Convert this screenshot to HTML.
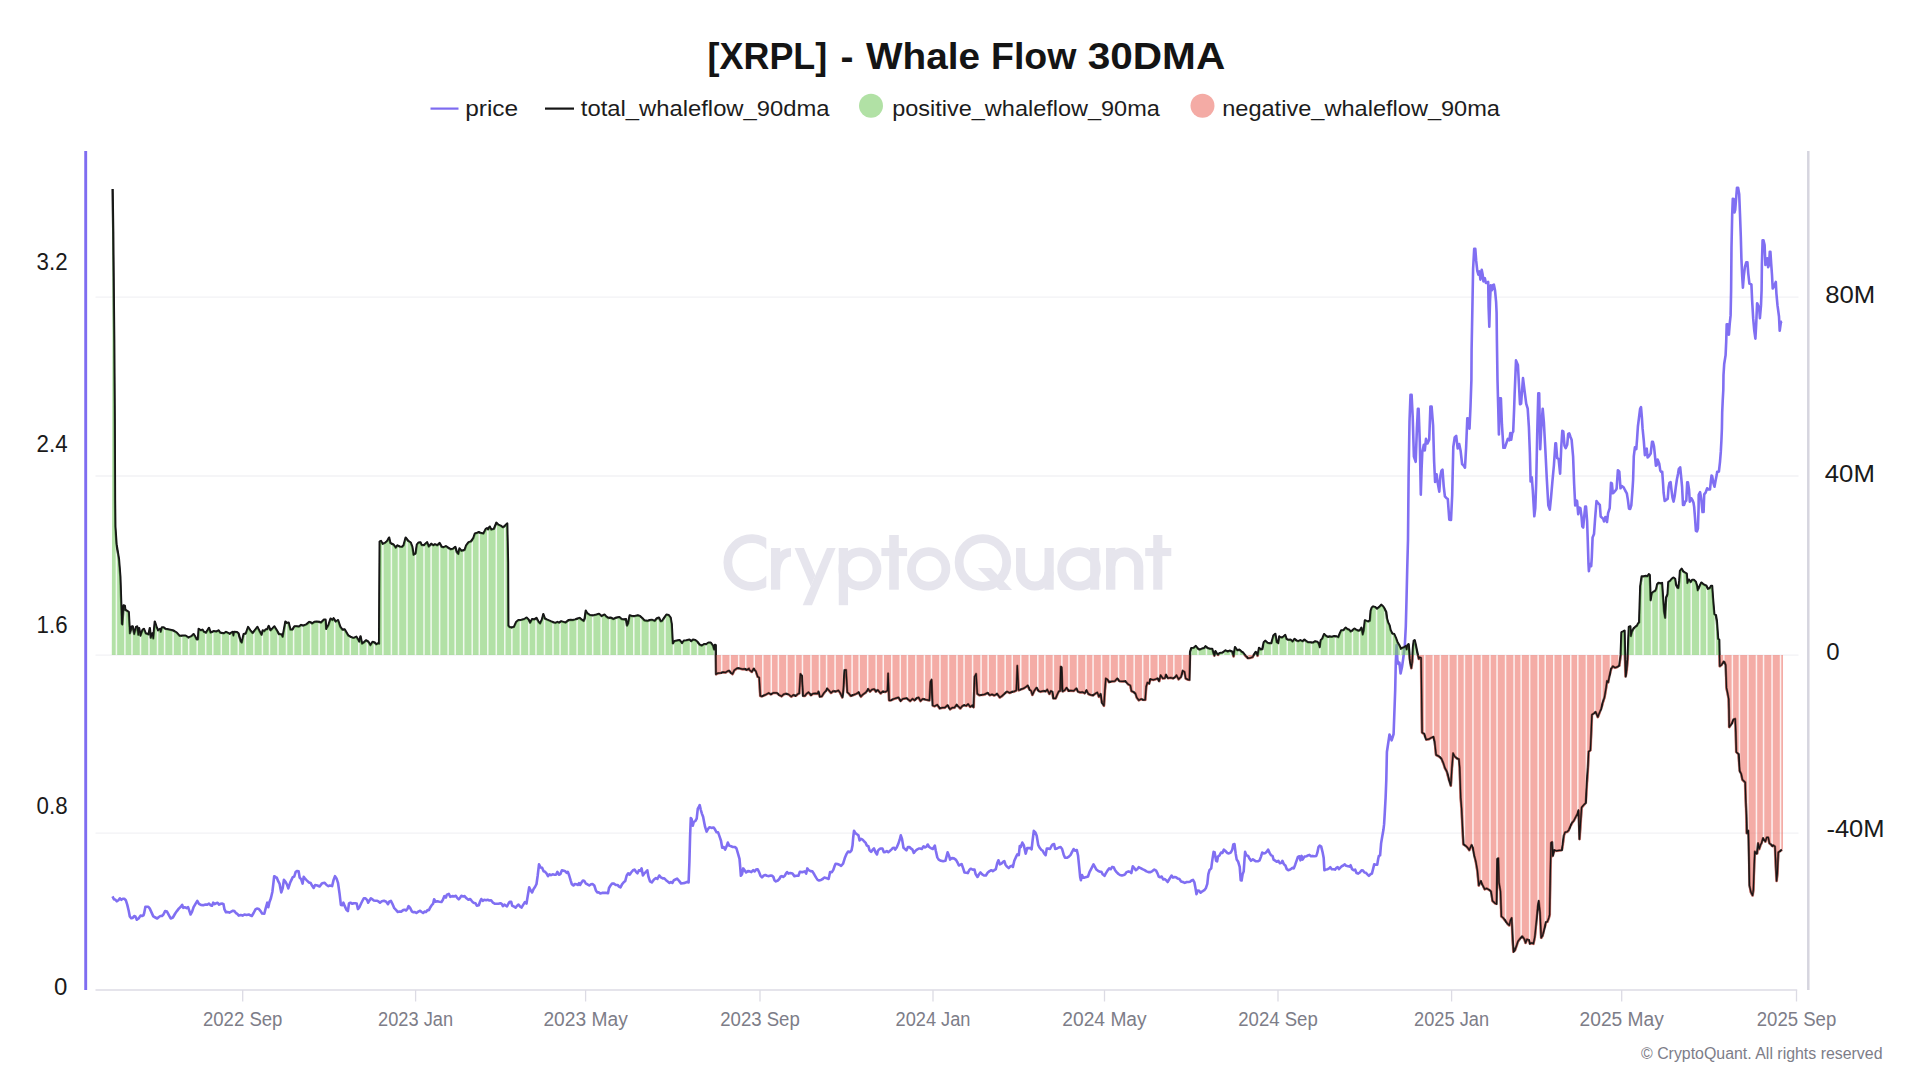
<!DOCTYPE html>
<html><head><meta charset="utf-8"><title>[XRPL] - Whale Flow 30DMA</title>
<style>
html,body{margin:0;padding:0;background:#fff;}
body{width:1930px;height:1086px;overflow:hidden;font-family:"Liberation Sans", sans-serif;}
svg{display:block;font-family:"Liberation Sans", sans-serif;}
</style></head>
<body>
<svg width="1930" height="1086" viewBox="0 0 1930 1086">
<defs>
<clipPath id="cpos"><rect x="100" y="150" width="1700" height="505.1"/></clipPath>
<clipPath id="cneg"><rect x="100" y="655.1" width="1700" height="334.9"/></clipPath>
<clipPath id="carea"><path d="M111.8,655.1 L112.6,189.0 L113.2,232.0 L113.8,300.0 L114.2,340.0 L114.7,420.0 L115.0,500.0 L115.3,526.5 L116.5,544.2 L118.9,558.9 L120.3,576.6 L121.4,610.0 L121.8,623.8 L122.4,624.5 L123.6,605.4 L124.8,605.8 L125.3,609.8 L128.7,612.0 L129.9,633.4 L131.7,626.7 L132.7,626.4 L134.2,634.1 L136.1,627.0 L137.1,626.4 L138.3,634.8 L139.1,628.2 L140.5,635.6 L142.7,629.7 L143.9,628.9 L145.7,633.4 L148.6,634.4 L149.8,628.2 L150.8,637.8 L152.3,633.4 L153.3,638.5 L154.8,621.6 L156.7,627.5 L158.2,630.4 L160.1,628.9 L160.7,631.9 L161.9,627.5 L163.7,627.5 L165.6,628.9 L169.3,629.7 L173.7,630.7 L176.6,632.6 L179.6,635.9 L182.5,635.6 L185.5,635.6 L188.4,637.5 L191.4,636.3 L193.6,634.1 L195.0,636.3 L196.5,639.3 L198.0,639.3 L198.7,628.9 L200.9,630.4 L202.4,629.7 L203.9,631.9 L206.1,632.6 L209.0,627.9 L210.5,632.6 L213.5,631.2 L216.4,631.6 L218.6,630.4 L220.1,632.6 L223.8,633.4 L226.0,631.9 L229.7,633.8 L232.6,631.9 L233.4,635.6 L234.1,631.9 L237.0,632.2 L238.5,633.4 L240.7,641.5 L241.8,642.6 L243.7,634.1 L245.9,633.4 L248.1,627.0 L250.3,630.4 L252.5,633.1 L254.7,630.4 L257.4,627.0 L259.9,631.9 L261.4,634.8 L262.8,630.4 L264.3,631.2 L265.8,629.4 L267.3,629.4 L268.7,626.0 L270.6,630.4 L272.4,628.5 L274.3,626.4 L276.8,630.4 L279.0,634.1 L281.3,634.4 L282.7,636.8 L285.4,621.6 L286.9,623.0 L288.6,622.6 L290.4,629.7 L292.3,629.7 L294.5,626.4 L296.7,626.3 L298.9,626.7 L301.1,625.0 L303.4,625.6 L306.3,624.5 L309.3,622.0 L310.7,622.3 L312.2,623.5 L314.4,622.0 L316.6,621.6 L319.6,622.0 L321.0,622.6 L324.0,619.7 L325.5,619.7 L326.2,628.9 L328.4,625.3 L330.6,618.6 L332.5,620.1 L333.6,618.3 L335.8,621.6 L338.0,620.1 L340.2,626.7 L342.4,629.7 L344.6,629.4 L348.3,635.6 L350.5,636.8 L352.7,637.8 L354.2,637.8 L356.4,636.8 L357.9,639.3 L359.4,641.5 L360.5,636.3 L362.0,643.7 L363.8,642.6 L366.0,640.4 L368.2,641.5 L370.4,645.2 L372.6,641.9 L374.8,642.6 L376.3,644.4 L378.2,643.2 L379.1,643.7 L379.7,541.5 L381.0,541.0 L382.5,543.8 L384.9,543.0 L387.2,541.0 L389.1,537.6 L390.3,543.0 L393.5,544.6 L395.8,547.7 L397.4,545.4 L399.7,546.6 L402.1,546.9 L403.6,545.4 L405.7,537.6 L408.3,541.0 L410.7,542.6 L412.3,546.9 L413.5,554.8 L415.7,553.2 L416.9,544.6 L418.5,542.6 L420.4,542.3 L421.6,545.1 L424.0,545.1 L427.1,542.3 L428.7,546.6 L431.3,543.8 L433.4,545.4 L434.9,544.3 L437.3,545.4 L439.6,543.0 L441.7,546.9 L443.6,547.3 L445.9,546.2 L448.2,547.7 L450.6,549.3 L452.9,548.8 L455.3,546.9 L456.9,552.4 L458.4,554.0 L459.5,548.5 L461.5,550.9 L464.7,549.8 L466.2,545.4 L468.6,542.3 L470.9,541.5 L473.3,538.3 L474.9,533.6 L476.4,533.2 L478.8,532.1 L481.1,533.2 L483.5,533.6 L485.8,529.0 L487.1,528.2 L488.2,529.4 L489.7,526.6 L491.3,529.7 L493.9,529.0 L496.4,522.7 L498.3,524.7 L500.7,525.8 L503.0,527.4 L504.9,525.8 L507.2,523.5 L508.0,562.6 L508.3,625.7 L509.6,627.2 L511.8,627.5 L514.0,626.9 L516.2,622.0 L518.4,620.1 L521.4,619.8 L524.3,619.1 L526.5,617.6 L528.7,619.8 L530.2,622.7 L532.1,619.1 L534.2,619.5 L536.5,618.0 L538.6,622.0 L540.1,623.5 L542.0,619.5 L543.3,614.2 L544.9,618.6 L547.2,619.8 L550.8,621.3 L555.3,623.0 L557.5,622.0 L558.9,622.7 L561.2,621.3 L563.4,622.0 L565.6,622.7 L568.5,620.1 L570.7,619.8 L572.9,620.1 L575.2,619.5 L577.4,618.6 L579.6,618.0 L581.8,619.8 L583.7,621.0 L584.7,618.3 L585.8,610.7 L587.2,613.2 L589.9,615.1 L592.1,615.4 L594.3,615.1 L596.5,614.6 L599.0,613.9 L601.7,616.1 L604.6,614.6 L606.1,616.5 L608.3,618.0 L610.5,617.6 L613.5,619.1 L616.4,617.6 L619.4,617.1 L621.6,619.1 L623.8,619.5 L626.0,619.1 L627.0,625.7 L628.2,623.5 L629.7,615.4 L631.9,616.1 L634.8,616.1 L637.8,615.4 L640.0,616.1 L642.2,618.0 L644.4,620.5 L647.4,621.0 L649.6,620.1 L651.8,619.8 L654.7,621.0 L656.9,618.3 L658.9,617.6 L660.6,621.3 L662.1,621.0 L664.3,617.6 L666.5,614.6 L668.7,615.1 L670.6,617.6 L671.7,624.2 L672.7,643.4 L674.6,641.2 L676.8,640.7 L679.5,640.1 L682.0,643.1 L683.9,640.7 L686.4,640.4 L689.4,639.7 L691.3,641.2 L693.0,639.7 L695.3,640.1 L697.5,641.9 L699.7,644.8 L701.9,645.6 L704.1,644.1 L706.3,644.1 L708.5,642.6 L710.7,642.6 L712.9,645.6 L714.0,649.3 L714.9,644.8 L715.7,645.1 L716.0,674.3 L718.1,673.1 L721.0,672.8 L723.3,672.1 L725.5,672.5 L727.7,671.1 L729.1,670.6 L730.6,672.5 L732.5,674.0 L734.3,670.2 L737.3,668.1 L739.5,668.4 L742.4,669.2 L744.6,668.9 L746.8,669.9 L749.0,668.4 L748.8,669.4 L751.8,671.9 L753.6,668.6 L755.9,671.3 L757.7,676.7 L759.2,677.5 L760.3,695.9 L762.1,696.3 L765.1,694.9 L768.7,692.9 L770.9,694.4 L773.2,692.9 L776.8,692.9 L779.1,694.9 L781.6,696.3 L783.5,694.4 L785.7,693.7 L788.6,694.4 L791.3,696.6 L793.3,694.9 L795.7,695.9 L798.2,693.7 L799.2,693.4 L800.4,673.8 L801.9,676.0 L803.1,695.9 L804.8,695.9 L806.6,693.7 L808.5,692.2 L811.0,695.2 L812.9,693.7 L815.2,693.4 L817.4,693.7 L818.4,691.5 L819.9,696.6 L821.8,696.3 L824.0,692.9 L826.2,690.4 L827.2,688.5 L829.2,690.7 L831.1,692.9 L833.1,691.0 L835.8,691.5 L838.4,690.4 L840.2,692.9 L842.4,697.4 L843.4,689.3 L844.6,670.1 L846.1,669.8 L847.3,692.2 L849.0,693.7 L850.8,695.9 L853.5,694.9 L856.4,693.7 L858.6,692.2 L860.8,696.6 L863.0,694.4 L866.0,692.2 L868.2,689.0 L870.0,691.5 L871.9,689.6 L874.1,689.0 L875.9,691.5 L877.8,690.0 L880.7,693.4 L882.6,691.5 L885.2,691.9 L887.4,690.7 L888.1,673.3 L889.1,700.3 L891.0,700.3 L894.0,698.8 L896.2,698.1 L898.4,697.4 L900.6,701.0 L902.8,698.8 L906.5,698.1 L910.2,701.0 L912.4,698.8 L914.6,700.3 L916.8,698.1 L918.6,697.4 L920.5,701.0 L922.7,698.8 L925.7,699.6 L929.4,700.3 L930.4,681.9 L931.6,679.7 L932.7,705.5 L934.5,706.2 L937.2,704.7 L939.7,708.4 L942.6,707.7 L944.8,707.7 L947.5,705.2 L950.0,709.2 L952.2,707.7 L954.4,707.7 L956.6,704.7 L958.1,706.2 L960.3,708.4 L962.5,705.8 L964.3,705.2 L966.2,705.8 L968.1,704.0 L970.2,706.9 L972.1,705.5 L973.6,707.2 L974.6,676.7 L976.1,673.8 L977.3,693.7 L979.5,695.2 L981.7,694.9 L984.6,694.4 L987.6,692.9 L989.8,695.2 L992.0,694.4 L994.2,695.4 L997.1,693.7 L999.7,697.4 L1001.6,696.3 L1004.5,693.7 L1007.0,691.5 L1009.7,692.9 L1011.9,691.9 L1014.1,691.5 L1016.3,690.4 L1017.3,665.7 L1018.5,689.3 L1018.9,690.2 L1020.6,689.5 L1023.6,688.4 L1026.5,686.5 L1027.7,685.5 L1029.5,689.5 L1031.2,690.9 L1032.4,694.9 L1034.2,690.9 L1036.5,687.6 L1038.6,690.9 L1040.5,691.7 L1043.5,690.9 L1045.7,691.4 L1047.2,689.5 L1049.4,693.9 L1050.8,690.9 L1052.3,691.7 L1053.3,698.3 L1055.7,698.3 L1057.5,693.9 L1058.7,691.4 L1060.1,690.9 L1060.7,666.6 L1061.6,667.4 L1062.6,691.4 L1064.8,690.2 L1066.6,687.6 L1068.5,690.9 L1070.7,690.5 L1073.7,690.9 L1076.3,688.4 L1078.1,691.7 L1080.3,692.4 L1082.5,692.0 L1084.7,693.2 L1086.6,690.2 L1088.4,693.9 L1090.6,694.9 L1093.1,695.4 L1095.8,693.2 L1097.3,692.4 L1099.0,696.8 L1100.5,693.9 L1102.0,702.7 L1103.9,705.7 L1104.9,690.2 L1105.8,678.4 L1107.6,679.6 L1109.0,682.1 L1112.0,681.4 L1114.9,681.1 L1117.2,678.4 L1119.4,681.1 L1122.3,681.4 L1125.3,681.1 L1128.2,684.3 L1130.4,685.5 L1131.4,690.9 L1133.4,692.0 L1135.3,693.2 L1136.8,697.6 L1138.8,700.2 L1141.2,699.0 L1142.9,699.8 L1145.2,699.8 L1146.2,686.5 L1147.4,682.5 L1149.1,683.6 L1150.3,679.2 L1153.3,679.9 L1155.5,679.2 L1157.4,678.4 L1159.2,681.1 L1160.6,675.2 L1162.8,678.4 L1165.0,678.1 L1165.8,674.7 L1168.0,678.1 L1170.9,677.7 L1173.2,678.4 L1175.4,676.9 L1176.5,675.2 L1178.6,679.2 L1181.0,676.9 L1182.7,670.8 L1184.5,671.8 L1185.7,678.4 L1187.9,679.6 L1189.4,679.9 L1190.1,651.9 L1191.3,648.2 L1193.8,647.8 L1195.7,646.0 L1197.5,648.2 L1199.7,649.7 L1201.9,648.7 L1204.1,648.2 L1205.6,646.3 L1207.8,648.2 L1210.0,648.9 L1212.2,648.9 L1213.4,653.4 L1214.4,655.6 L1215.4,651.2 L1216.9,653.7 L1218.1,654.8 L1219.6,653.1 L1222.5,652.6 L1225.5,650.4 L1227.7,651.6 L1229.6,650.7 L1232.1,651.6 L1233.6,656.3 L1235.0,647.2 L1237.3,650.4 L1239.5,649.7 L1241.7,651.9 L1243.1,652.6 L1245.4,655.6 L1247.9,658.1 L1250.5,657.8 L1252.7,657.0 L1253.8,654.8 L1255.7,651.9 L1257.6,655.6 L1259.1,647.8 L1260.8,649.7 L1262.3,649.2 L1263.8,642.3 L1265.3,640.8 L1267.5,642.8 L1269.7,643.3 L1271.4,643.1 L1273.4,635.7 L1275.3,633.9 L1276.7,642.3 L1278.2,643.1 L1279.3,636.4 L1280.0,637.2 L1282.1,637.6 L1283.8,636.3 L1285.2,635.0 L1286.5,639.0 L1288.2,639.8 L1290.4,639.6 L1292.6,641.6 L1294.5,639.0 L1296.5,640.5 L1298.1,641.3 L1300.3,640.2 L1302.5,641.3 L1304.4,639.6 L1306.4,641.3 L1308.1,642.4 L1310.3,642.4 L1313.0,642.7 L1315.2,641.3 L1317.4,641.8 L1318.6,643.5 L1319.7,647.1 L1320.8,640.2 L1322.4,638.5 L1324.1,634.1 L1325.7,635.7 L1327.4,636.8 L1329.6,636.5 L1331.8,636.8 L1334.2,636.1 L1336.2,636.3 L1338.4,637.2 L1339.8,633.5 L1341.2,630.5 L1343.4,630.2 L1345.6,627.7 L1347.3,629.1 L1349.3,629.9 L1350.6,631.6 L1352.6,630.2 L1354.5,628.6 L1356.1,629.7 L1358.1,630.8 L1360.0,630.2 L1361.4,627.7 L1362.7,634.6 L1363.8,630.5 L1364.9,620.3 L1366.6,621.0 L1368.3,621.4 L1369.9,620.8 L1370.7,610.9 L1371.8,607.6 L1373.2,606.5 L1374.9,607.0 L1377.1,608.7 L1379.3,607.0 L1381.3,604.8 L1383.2,606.5 L1384.8,609.2 L1386.2,612.0 L1387.0,618.6 L1388.1,622.5 L1389.5,625.2 L1390.6,630.2 L1392.3,633.5 L1394.2,634.1 L1395.9,637.9 L1397.5,642.4 L1399.2,645.1 L1400.9,648.7 L1402.5,647.9 L1404.2,647.3 L1405.8,646.2 L1406.7,649.5 L1407.5,645.1 L1408.6,644.2 L1409.1,649.5 L1409.7,658.4 L1410.5,663.9 L1411.3,668.1 L1412.2,661.7 L1413.0,647.3 L1413.8,640.7 L1414.7,640.2 L1415.8,645.1 L1416.9,650.6 L1418.0,655.6 L1418.9,658.9 L1419.6,657.3 L1421.1,657.8 L1421.4,679.5 L1422.1,732.5 L1424.3,734.0 L1426.2,739.6 L1428.7,739.2 L1431.2,737.7 L1433.6,736.9 L1434.6,741.4 L1436.1,754.9 L1438.6,756.1 L1441.3,758.3 L1443.5,763.5 L1444.9,767.9 L1446.9,771.6 L1448.6,778.2 L1450.8,785.6 L1451.9,767.9 L1453.1,753.2 L1454.5,756.1 L1456.7,758.3 L1458.9,759.0 L1459.7,767.9 L1460.7,797.4 L1461.6,808.8 L1462.6,829.5 L1463.4,844.2 L1465.6,845.7 L1467.5,847.5 L1469.3,850.1 L1471.5,844.9 L1472.9,847.9 L1474.4,856.0 L1475.9,861.9 L1477.4,870.7 L1478.8,885.5 L1480.8,881.0 L1482.5,884.7 L1484.7,889.2 L1486.9,888.4 L1489.2,889.9 L1491.1,891.4 L1492.5,900.9 L1495.0,903.2 L1496.5,903.9 L1497.3,858.9 L1498.4,858.2 L1499.0,882.5 L1500.5,891.4 L1501.4,916.4 L1503.2,917.9 L1505.4,920.8 L1507.6,923.8 L1509.3,925.3 L1510.5,920.1 L1511.7,917.9 L1512.7,940.0 L1513.5,951.8 L1514.9,950.3 L1516.7,945.2 L1517.9,941.5 L1520.1,938.5 L1522.3,936.3 L1524.5,939.3 L1525.6,942.9 L1527.0,939.3 L1528.9,940.0 L1530.0,943.7 L1531.9,942.9 L1533.4,943.7 L1534.8,937.0 L1536.3,922.3 L1537.8,906.1 L1538.8,900.9 L1540.0,912.0 L1541.2,937.8 L1542.6,935.6 L1544.1,929.7 L1545.9,922.3 L1547.4,921.6 L1548.8,917.9 L1549.6,914.9 L1550.3,873.7 L1551.0,842.7 L1552.1,842.0 L1552.7,856.0 L1554.4,850.1 L1556.2,850.8 L1559.2,850.4 L1561.8,850.1 L1562.8,844.2 L1563.9,835.4 L1565.0,832.4 L1567.3,831.7 L1568.7,830.2 L1570.2,826.5 L1572.1,822.8 L1573.9,820.6 L1576.1,816.2 L1577.6,813.3 L1578.6,810.3 L1579.5,839.1 L1580.5,823.6 L1581.6,807.4 L1583.5,805.2 L1585.7,802.9 L1586.9,782.6 L1587.9,767.9 L1588.6,751.7 L1590.4,750.2 L1591.3,729.6 L1591.9,714.8 L1593.8,713.4 L1595.7,711.9 L1597.8,717.0 L1599.2,713.4 L1601.1,708.9 L1602.6,703.1 L1604.5,697.2 L1606.0,688.3 L1607.0,680.9 L1608.1,682.4 L1609.3,676.5 L1611.0,669.2 L1612.9,666.2 L1615.1,667.7 L1617.4,666.9 L1619.3,665.5 L1619.6,663.2 L1620.7,654.9 L1621.5,632.3 L1623.1,631.5 L1624.5,630.6 L1625.1,660.5 L1625.6,676.5 L1626.7,670.0 L1627.6,659.4 L1628.4,638.4 L1628.9,626.8 L1630.3,626.4 L1630.9,636.2 L1632.0,631.7 L1633.6,628.4 L1635.5,626.8 L1637.0,625.7 L1638.1,623.5 L1639.2,622.4 L1639.7,605.2 L1640.3,586.5 L1641.7,576.5 L1643.6,576.3 L1645.8,576.0 L1647.4,576.3 L1648.8,574.3 L1649.7,574.9 L1650.2,588.7 L1650.5,600.3 L1651.9,593.1 L1653.5,591.8 L1655.2,590.9 L1656.3,588.7 L1657.2,584.2 L1658.5,582.9 L1659.8,583.1 L1661.3,583.7 L1662.0,582.9 L1662.9,596.4 L1664.0,611.9 L1665.1,617.9 L1665.7,605.2 L1666.2,597.5 L1667.6,594.2 L1668.4,582.0 L1670.1,580.9 L1671.7,578.9 L1673.4,577.6 L1675.1,578.9 L1675.9,584.2 L1677.3,587.6 L1678.4,588.1 L1679.3,580.9 L1680.0,571.0 L1681.7,568.8 L1683.3,571.5 L1685.0,572.6 L1686.7,573.8 L1687.4,583.1 L1688.9,579.6 L1690.5,582.0 L1692.2,580.0 L1693.8,579.8 L1695.8,581.8 L1696.9,585.4 L1697.7,590.3 L1699.4,586.5 L1701.4,582.6 L1703.2,584.2 L1704.9,585.1 L1706.5,585.9 L1708.0,588.9 L1709.9,588.1 L1711.0,585.9 L1712.1,585.9 L1712.8,596.4 L1713.7,607.4 L1714.3,614.1 L1715.9,615.2 L1716.8,620.7 L1717.6,631.7 L1718.1,638.9 L1719.2,639.6 L1719.5,654.7 L1719.8,666.2 L1721.7,664.7 L1723.5,661.7 L1724.6,662.1 L1725.7,665.0 L1726.1,676.8 L1726.5,687.9 L1727.6,693.0 L1728.7,699.0 L1729.0,710.0 L1729.2,727.1 L1731.9,723.3 L1733.6,719.4 L1735.2,718.8 L1735.8,732.1 L1736.3,752.0 L1738.6,754.2 L1739.7,770.8 L1741.3,774.1 L1742.4,779.6 L1745.2,782.4 L1745.7,798.4 L1746.4,815.0 L1746.8,833.2 L1748.4,830.7 L1749.0,856.4 L1749.5,885.5 L1750.9,892.1 L1752.6,895.4 L1753.4,889.6 L1754.2,864.7 L1754.8,851.5 L1755.9,853.5 L1757.1,853.5 L1758.1,843.2 L1759.2,849.0 L1760.5,844.8 L1761.5,843.2 L1762.9,838.2 L1764.2,839.9 L1765.4,841.5 L1766.7,837.4 L1768.3,837.4 L1769.4,843.2 L1770.8,844.4 L1772.5,846.1 L1773.3,845.3 L1775.0,846.5 L1775.8,864.7 L1776.6,880.9 L1777.4,873.0 L1778.3,852.3 L1779.5,851.5 L1781.2,850.2 L1782.0,849.8 L1783,849.8 L1783,655.1 Z"/></clipPath>
<clipPath id="cwmC"><rect x="715" y="525" width="51.3" height="80"/></clipPath><clipPath id="cwmr"><rect x="770" y="540" width="21" height="50"/></clipPath>
<mask id="mstripes" maskUnits="userSpaceOnUse" x="100" y="150" width="1700" height="850"><rect x="100" y="150" width="1700" height="850" fill="#fff"/><path d="M116.40,150V990M124.91,150V990M131.99,150V990M140.50,150V990M149.00,150V990M157.51,150V990M164.59,150V990M173.10,150V990M181.61,150V990M188.69,150V990M197.20,150V990M205.70,150V990M212.79,150V990M221.30,150V990M229.80,150V990M238.31,150V990M245.39,150V990M253.90,150V990M262.40,150V990M269.49,150V990M278.00,150V990M286.50,150V990M293.59,150V990M302.09,150V990M310.60,150V990M319.10,150V990M326.19,150V990M334.69,150V990M343.20,150V990M350.29,150V990M358.79,150V990M367.30,150V990M374.38,150V990M382.89,150V990M391.39,150V990M398.48,150V990M406.99,150V990M415.49,150V990M424.00,150V990M431.09,150V990M439.59,150V990M448.10,150V990M455.18,150V990M463.69,150V990M472.19,150V990M479.28,150V990M487.78,150V990M496.29,150V990M504.79,150V990M511.88,150V990M520.39,150V990M528.89,150V990M535.98,150V990M544.49,150V990M552.99,150V990M560.08,150V990M568.58,150V990M577.09,150V990M585.59,150V990M592.68,150V990M601.18,150V990M609.69,150V990M616.78,150V990M625.28,150V990M633.79,150V990M640.88,150V990M649.38,150V990M657.88,150V990M664.97,150V990M673.48,150V990M681.98,150V990M690.49,150V990M697.57,150V990M706.08,150V990M714.58,150V990M721.67,150V990M730.18,150V990M738.68,150V990M745.77,150V990M754.27,150V990M762.78,150V990M771.28,150V990M778.37,150V990M786.88,150V990M795.38,150V990M802.47,150V990M810.98,150V990M819.48,150V990M826.57,150V990M835.07,150V990M843.58,150V990M852.08,150V990M859.17,150V990M867.67,150V990M876.18,150V990M883.27,150V990M891.77,150V990M900.28,150V990M907.37,150V990M915.87,150V990M924.38,150V990M931.46,150V990M939.97,150V990M948.47,150V990M956.98,150V990M964.06,150V990M972.57,150V990M981.07,150V990M988.16,150V990M996.67,150V990M1005.17,150V990M1012.26,150V990M1020.76,150V990M1029.27,150V990M1037.78,150V990M1044.86,150V990M1053.37,150V990M1061.87,150V990M1068.96,150V990M1077.46,150V990M1085.97,150V990M1093.06,150V990M1101.56,150V990M1110.07,150V990M1118.57,150V990M1125.66,150V990M1134.16,150V990M1142.67,150V990M1149.76,150V990M1158.26,150V990M1166.77,150V990M1173.86,150V990M1182.36,150V990M1190.87,150V990M1197.95,150V990M1206.46,150V990M1214.96,150V990M1223.47,150V990M1230.56,150V990M1239.06,150V990M1247.57,150V990M1254.65,150V990M1263.16,150V990M1271.66,150V990M1278.75,150V990M1287.26,150V990M1295.76,150V990M1304.27,150V990M1311.35,150V990M1319.86,150V990M1328.36,150V990M1335.45,150V990M1343.96,150V990M1352.46,150V990M1359.55,150V990M1368.05,150V990M1376.56,150V990M1385.06,150V990M1392.15,150V990M1400.65,150V990M1409.16,150V990M1416.25,150V990M1424.75,150V990M1433.26,150V990M1440.35,150V990M1448.85,150V990M1457.36,150V990M1464.44,150V990M1472.95,150V990M1481.45,150V990M1489.96,150V990M1497.05,150V990M1505.55,150V990M1514.06,150V990M1521.14,150V990M1529.65,150V990M1538.15,150V990M1545.24,150V990M1553.75,150V990M1562.25,150V990M1570.76,150V990M1577.84,150V990M1586.35,150V990M1594.85,150V990M1601.94,150V990M1610.45,150V990M1618.95,150V990M1626.04,150V990M1634.54,150V990M1643.05,150V990M1651.55,150V990M1658.64,150V990M1667.14,150V990M1675.65,150V990M1682.74,150V990M1691.24,150V990M1699.75,150V990M1706.84,150V990M1715.34,150V990M1723.85,150V990M1732.35,150V990M1739.44,150V990M1747.94,150V990M1756.45,150V990M1763.54,150V990M1772.04,150V990M1780.55,150V990" stroke="#000" stroke-opacity="0.82" stroke-width="1.5" fill="none"/></mask>
</defs>
<rect width="1930" height="1086" fill="#ffffff"/>
<!-- title -->
<g font-size="36.5" font-weight="700" fill="#141414"><text x="707.6" y="68.6" textLength="119.6" lengthAdjust="spacingAndGlyphs">[XRPL]</text><text x="840.4" y="68.6" textLength="13" lengthAdjust="spacingAndGlyphs">-</text><text x="866.0" y="68.6" textLength="114" lengthAdjust="spacingAndGlyphs">Whale</text><text x="991.0" y="68.6" textLength="85.5" lengthAdjust="spacingAndGlyphs">Flow</text><text x="1087.7" y="68.6" textLength="137.5" lengthAdjust="spacingAndGlyphs">30DMA</text></g>
<!-- legend -->
<g font-size="22" fill="#1c1c1c">
<path d="M430.5,108.6H458.5" stroke="#7d6bf0" stroke-width="2.2"/>
<text x="465.2" y="116.3" textLength="53" lengthAdjust="spacingAndGlyphs">price</text>
<path d="M545,108.6H574" stroke="#151515" stroke-width="2.2"/>
<text x="580.8" y="116.3" textLength="248.8" lengthAdjust="spacingAndGlyphs">total_whaleflow_90dma</text>
<circle cx="871" cy="105.7" r="12" fill="#b1e1a5"/>
<text x="892.2" y="116.3" textLength="267.6" lengthAdjust="spacingAndGlyphs">positive_whaleflow_90ma</text>
<circle cx="1202.5" cy="105.7" r="12" fill="#f4aba5"/>
<text x="1222.2" y="116.3" textLength="277.8" lengthAdjust="spacingAndGlyphs">negative_whaleflow_90ma</text>
</g>
<!-- gridlines -->
<g stroke="#f2f2f5" stroke-width="1.3" fill="none">
<path d="M95.5,297.2H1798.5"/><path d="M95.5,476H1798.5"/><path d="M95.5,655.1H1798.5"/><path d="M95.5,833.2H1798.5"/>
</g>
<!-- watermark -->
<g fill="none" stroke="#e6e5ed" stroke-width="8.8">
<g clip-path="url(#cwmC)"><path d="M769.5,546.5 A23.9,23.9 0 1,0 769.5,578.5"/></g>
<path d="M775.6,548V589.7" stroke-width="9.2"/>
<g clip-path="url(#cwmr)"><path d="M775.7,576 C775.7,560 781.5,552.2 792,552.2" stroke-width="8.4"/></g>
<path d="M843.4,548V605.2" stroke-width="9.3"/>
<circle cx="859.9" cy="568.9" r="17.1"/>
<path d="M894,535V589.7" stroke-width="9.6"/>
<circle cx="928.7" cy="568.9" r="17.2"/>
<circle cx="982.9" cy="562.5" r="23.8"/>
<path d="M1020.6,548V571.8A14.25,14.25 0 0,0 1049.1,571.8" stroke-width="9.1"/>
<path d="M1049.1,548V589.7" stroke-width="9.2"/>
<circle cx="1079" cy="568.9" r="17.3"/>
<path d="M1094.7,548V589.7" stroke-width="9.1"/>
<path d="M1110.7,548V589.7" stroke-width="9.3"/>
<path d="M1110.7,566A14,14 0 0,1 1138.7,566V589.7" stroke-width="9.2"/>
<path d="M1157.8,535V589.7" stroke-width="9.1"/>
</g>
<g fill="#e6e5ed" stroke="none">
<path d="M826.9,548H835.6L812,605.2H802.7Z"/><path d="M794.6,548H803.9L815.4,575.2L810.8,586.2Z"/>
<rect x="881.4" y="548" width="25.7" height="8.1"/>
<path d="M977.9,567.9H991L1012.1,589.9H999.7Z"/>
<rect x="1145.2" y="548" width="26.1" height="8.1"/>
</g>
<!-- axes -->
<path d="M95.5,990H1797.2" stroke="#dcdbe4" stroke-width="1.4" fill="none"/>
<path d="M242.7,990V1001.5" stroke="#dcdbe4" stroke-width="1.3" fill="none"/><path d="M415.6,990V1001.5" stroke="#dcdbe4" stroke-width="1.3" fill="none"/><path d="M585.6,990V1001.5" stroke="#dcdbe4" stroke-width="1.3" fill="none"/><path d="M760.0,990V1001.5" stroke="#dcdbe4" stroke-width="1.3" fill="none"/><path d="M933.0,990V1001.5" stroke="#dcdbe4" stroke-width="1.3" fill="none"/><path d="M1104.5,990V1001.5" stroke="#dcdbe4" stroke-width="1.3" fill="none"/><path d="M1278.0,990V1001.5" stroke="#dcdbe4" stroke-width="1.3" fill="none"/><path d="M1451.6,990V1001.5" stroke="#dcdbe4" stroke-width="1.3" fill="none"/><path d="M1621.7,990V1001.5" stroke="#dcdbe4" stroke-width="1.3" fill="none"/><path d="M1796.5,990V1001.5" stroke="#dcdbe4" stroke-width="1.3" fill="none"/>
<path d="M85.7,151V990" stroke="#7f6df1" stroke-width="2.9" fill="none"/>
<path d="M1808.3,151V990" stroke="#d6d5df" stroke-width="2.5" fill="none"/>
<!-- lines (under bars) -->
<path d="M112.5,896.4 L114.0,899.3 L115.5,899.8 L116.9,901.3 L118.4,900.2 L119.9,898.3 L121.4,899.8 L122.8,898.8 L124.3,898.8 L125.8,900.2 L127.3,904.9 L128.7,910.8 L129.8,916.4 L131.2,918.2 L132.7,917.9 L134.2,916.0 L135.4,916.4 L136.8,919.7 L138.6,918.5 L140.5,915.6 L142.0,916.0 L143.5,915.3 L144.2,913.0 L145.4,906.7 L146.9,906.7 L148.3,906.7 L149.8,908.6 L151.6,912.6 L153.3,916.4 L155.3,917.5 L157.2,918.5 L158.9,917.0 L160.4,916.0 L161.9,916.0 L163.4,914.5 L165.1,911.1 L167.0,911.6 L169.0,915.3 L170.7,918.5 L172.9,917.5 L175.2,913.5 L176.9,911.1 L178.8,908.6 L180.8,906.7 L182.2,904.9 L183.3,907.9 L184.7,907.2 L186.6,908.2 L188.1,907.2 L189.6,911.6 L190.6,914.5 L192.1,911.6 L193.6,907.2 L195.5,903.8 L197.3,900.8 L199.0,903.8 L200.9,904.9 L203.2,905.2 L205.4,904.6 L207.6,904.6 L209.0,903.5 L210.5,905.2 L212.0,905.7 L213.2,902.7 L214.6,904.2 L216.4,903.2 L217.6,902.7 L219.1,904.6 L220.8,903.8 L222.3,903.5 L223.5,904.2 L224.5,909.4 L226.0,912.3 L227.5,912.0 L229.4,912.6 L231.2,911.6 L232.9,910.8 L234.4,911.1 L235.9,913.0 L237.3,913.8 L238.8,915.6 L240.7,915.0 L242.6,915.6 L244.4,914.5 L246.6,915.0 L248.8,914.5 L250.3,915.3 L251.8,916.0 L253.6,913.0 L255.5,909.4 L256.9,908.6 L258.9,909.1 L260.6,911.1 L262.1,913.5 L264.3,913.8 L265.8,907.9 L267.3,902.7 L268.3,907.2 L269.5,902.0 L270.9,898.3 L272.4,891.7 L273.6,881.4 L274.2,876.2 L275.7,877.2 L276.8,877.7 L278.3,881.4 L279.5,883.6 L280.5,888.7 L281.3,892.4 L282.7,888.0 L283.9,879.9 L285.7,882.1 L287.2,885.0 L288.3,888.4 L290.1,882.8 L291.6,879.6 L292.7,877.2 L294.2,876.6 L295.7,871.8 L297.2,871.0 L298.6,871.3 L299.7,877.7 L301.1,879.2 L302.6,883.6 L303.7,876.9 L305.1,878.7 L307.0,880.6 L309.0,882.5 L310.7,883.1 L312.2,885.8 L313.7,888.0 L315.1,885.0 L317.4,885.5 L319.6,886.5 L321.8,883.6 L323.3,883.1 L324.7,882.8 L326.6,885.0 L328.4,886.1 L329.9,885.5 L332.1,886.1 L333.6,879.9 L335.0,876.2 L336.5,878.4 L338.0,882.8 L339.5,893.2 L340.9,904.9 L342.4,905.2 L343.4,902.7 L344.9,906.4 L346.4,909.7 L347.9,911.1 L349.0,903.5 L350.5,902.7 L352.3,903.8 L353.8,903.2 L355.2,903.2 L356.7,903.5 L357.9,909.1 L359.4,907.2 L361.1,903.5 L362.6,900.5 L363.8,898.3 L365.5,898.3 L367.0,899.8 L368.2,902.7 L369.7,900.2 L370.9,898.3 L372.3,899.3 L373.8,900.5 L375.6,900.8 L377.3,900.8 L378.8,901.7 L380.0,902.7 L381.8,901.3 L384.0,900.8 L386.2,901.7 L388.0,904.2 L389.2,901.7 L390.9,900.8 L392.4,903.8 L394.3,908.2 L396.2,910.1 L397.7,912.0 L399.5,911.6 L401.2,911.6 L403.2,910.1 L404.6,909.7 L406.1,910.5 L407.6,908.6 L408.6,906.1 L410.1,907.9 L412.0,911.6 L413.5,912.3 L414.9,912.0 L416.4,913.0 L418.3,911.6 L420.1,910.8 L421.6,912.0 L423.1,913.0 L424.5,911.6 L426.0,912.0 L427.5,910.1 L428.9,910.1 L430.4,907.2 L431.9,904.9 L433.1,903.8 L434.1,899.3 L435.6,901.7 L437.5,901.3 L439.3,901.7 L441.5,902.0 L442.9,899.8 L444.4,896.1 L445.9,897.6 L446.9,894.6 L448.8,893.9 L450.3,896.8 L452.2,896.1 L454.0,896.4 L455.8,895.8 L457.2,897.9 L458.7,899.3 L460.2,897.6 L461.4,895.8 L463.1,896.4 L464.6,896.1 L466.5,898.3 L468.4,899.8 L470.2,899.0 L472.0,901.3 L473.4,902.7 L475.4,903.2 L476.8,905.7 L478.8,905.2 L480.2,901.3 L481.3,899.0 L482.7,900.8 L484.2,899.8 L486.1,900.2 L487.6,899.8 L489.4,900.5 L491.1,900.2 L493.0,902.7 L495.0,903.8 L496.7,903.8 L498.5,903.8 L500.4,903.2 L501.9,904.2 L502.9,906.1 L504.4,904.6 L505.9,905.7 L507.0,906.4 L508.5,903.5 L509.7,901.7 L511.2,901.7 L512.2,905.7 L513.7,906.4 L515.6,907.6 L517.1,905.7 L518.5,904.6 L520.0,906.4 L521.5,907.6 L523.3,904.6 L525.0,902.0 L526.5,903.5 L527.7,896.1 L529.2,887.3 L530.6,890.2 L532.1,892.4 L533.6,889.0 L535.0,887.0 L536.5,884.0 L537.7,875.5 L539.0,864.4 L540.6,867.4 L542.1,867.8 L543.6,871.3 L545.1,871.8 L546.5,873.3 L548.0,876.2 L549.5,874.3 L551.0,875.2 L552.7,874.3 L554.5,874.7 L556.0,874.7 L557.4,871.8 L558.9,874.7 L560.4,874.0 L561.9,870.3 L563.8,870.8 L565.3,871.3 L566.7,872.8 L567.8,871.8 L569.2,875.5 L570.7,880.6 L571.9,884.3 L573.4,885.5 L574.8,884.0 L576.6,884.3 L577.8,885.0 L579.0,883.1 L580.0,885.0 L581.5,882.5 L582.9,880.6 L584.4,881.1 L585.9,883.6 L587.4,884.3 L589.3,885.5 L591.0,884.3 L592.5,884.0 L594.3,885.5 L595.8,890.2 L597.2,892.4 L598.7,892.4 L600.2,893.4 L602.1,892.9 L604.3,892.9 L606.5,892.9 L608.0,893.2 L609.0,888.0 L610.5,885.5 L612.0,883.6 L613.9,883.6 L615.8,885.0 L617.6,885.0 L619.0,886.5 L620.5,887.3 L622.0,884.3 L623.5,882.5 L625.2,881.1 L626.7,875.5 L628.2,873.3 L629.7,874.7 L631.1,872.5 L633.0,870.3 L634.5,869.6 L636.0,871.8 L637.5,873.3 L638.9,870.3 L640.4,870.8 L641.6,868.4 L642.9,875.5 L644.4,873.3 L645.9,871.8 L647.3,870.3 L648.5,876.9 L650.0,881.4 L651.8,882.4 L654.0,879.5 L655.9,878.0 L657.4,879.0 L659.2,875.5 L660.9,877.3 L662.8,878.4 L664.3,878.4 L665.8,879.9 L667.7,881.4 L669.5,882.9 L671.2,882.0 L672.4,882.9 L673.9,880.2 L675.4,879.5 L677.1,878.7 L679.1,880.9 L681.0,883.4 L683.0,883.2 L684.9,882.9 L686.9,882.0 L688.6,882.4 L689.4,862.5 L690.1,836.0 L690.8,818.0 L691.6,819.1 L692.8,825.7 L693.8,822.0 L695.3,821.0 L696.7,818.6 L697.8,808.7 L698.7,807.3 L699.7,805.1 L700.7,809.5 L701.9,813.6 L703.1,816.8 L704.1,822.0 L705.1,826.9 L706.6,831.6 L708.1,828.9 L709.6,827.2 L711.5,827.9 L713.7,827.5 L715.2,829.8 L716.6,832.3 L718.1,832.3 L719.6,836.7 L721.0,840.7 L722.2,847.8 L723.7,847.0 L725.2,849.6 L726.6,846.3 L727.8,842.6 L729.2,845.6 L731.1,846.3 L732.8,847.0 L735.0,847.0 L736.5,848.5 L738.0,853.7 L739.5,858.8 L740.2,866.9 L740.9,875.8 L742.0,874.3 L743.2,868.4 L744.6,870.2 L746.1,872.5 L747.9,871.1 L749.8,871.4 L751.3,872.1 L753.2,870.2 L754.6,871.4 L756.1,869.6 L757.6,869.2 L759.1,872.1 L760.5,875.8 L762.0,877.3 L763.8,875.5 L765.3,875.0 L767.0,875.8 L768.9,876.1 L770.9,875.5 L772.3,875.8 L773.4,877.0 L774.4,880.2 L775.9,881.4 L777.8,880.5 L779.3,879.0 L780.7,876.5 L781.8,876.1 L783.2,877.0 L784.7,875.8 L785.9,873.6 L787.1,872.1 L788.5,873.6 L790.3,873.1 L792.5,873.6 L794.4,876.1 L796.5,875.8 L798.4,875.8 L799.9,871.7 L801.4,872.1 L802.8,872.1 L804.8,871.4 L806.2,873.6 L807.3,868.4 L808.7,870.2 L810.6,871.1 L812.4,871.4 L814.2,874.3 L816.1,877.6 L817.6,879.9 L819.0,880.5 L821.0,879.9 L822.7,879.0 L824.2,877.6 L826.0,878.0 L827.4,878.4 L828.6,879.0 L830.1,872.1 L831.9,872.1 L833.3,869.9 L834.8,865.5 L835.7,863.7 L837.5,864.0 L839.2,864.7 L841.1,865.8 L843.1,863.7 L844.8,858.1 L846.3,854.4 L848.1,851.5 L850.0,852.2 L851.5,850.4 L852.5,845.6 L853.2,837.5 L854.0,830.8 L855.4,833.1 L856.9,834.2 L858.4,835.3 L859.6,840.4 L861.0,838.9 L862.5,839.7 L864.0,841.2 L865.5,842.6 L866.9,845.6 L868.4,846.3 L869.6,850.4 L871.1,851.9 L872.5,850.0 L874.0,848.5 L875.5,852.2 L877.0,854.4 L878.0,850.7 L879.5,849.0 L880.9,848.5 L882.4,848.5 L883.9,852.2 L885.4,851.9 L886.8,851.0 L888.3,852.2 L889.8,851.0 L891.3,849.6 L892.7,848.1 L894.2,847.8 L895.2,849.6 L896.7,847.5 L898.2,844.1 L899.7,839.7 L900.8,835.3 L902.0,838.9 L903.5,847.8 L905.0,849.0 L906.4,850.4 L907.9,847.0 L909.4,847.0 L910.9,848.5 L912.3,849.3 L913.8,852.9 L915.3,851.0 L917.0,849.6 L918.8,848.5 L920.0,848.5 L921.8,849.0 L923.6,846.3 L925.0,847.5 L926.5,846.6 L927.7,844.5 L929.2,847.0 L930.9,848.1 L932.8,849.0 L934.8,845.6 L935.8,850.7 L937.3,857.4 L938.7,859.6 L940.9,860.8 L943.2,861.3 L945.4,860.8 L946.5,856.6 L947.6,852.2 L949.1,855.9 L950.1,859.6 L952.0,858.1 L953.9,858.4 L956.0,859.9 L957.5,862.5 L958.9,865.5 L960.4,864.7 L961.6,864.0 L963.1,868.1 L964.5,872.5 L966.3,872.8 L967.8,873.1 L969.2,870.2 L970.7,868.7 L972.6,869.6 L974.5,869.6 L975.6,874.0 L977.5,877.0 L979.0,874.3 L980.4,872.5 L982.2,874.3 L984.0,875.5 L985.9,875.5 L987.8,872.5 L989.6,871.1 L991.3,870.2 L992.8,871.1 L994.3,870.2 L995.8,869.2 L997.2,863.3 L998.4,860.3 L999.9,864.3 L1001.7,863.3 L1003.1,861.8 L1004.3,861.0 L1005.5,864.7 L1007.0,866.6 L1008.7,868.1 L1010.5,866.2 L1012.0,865.8 L1012.9,866.9 L1014.3,860.8 L1015.8,857.4 L1017.3,854.4 L1018.8,855.2 L1019.8,846.0 L1020.8,847.0 L1022.3,842.6 L1023.8,845.1 L1025.7,853.7 L1027.2,848.1 L1029.1,848.1 L1030.5,848.1 L1031.6,849.3 L1032.6,840.4 L1033.8,830.8 L1035.3,832.3 L1036.7,835.7 L1038.2,844.8 L1039.7,847.8 L1041.4,850.0 L1042.6,850.7 L1044.1,853.4 L1045.6,855.2 L1046.8,848.5 L1048.2,848.5 L1050.0,849.0 L1051.5,846.0 L1052.6,844.5 L1054.1,844.1 L1055.2,849.0 L1057.1,848.5 L1058.8,847.5 L1060.6,847.0 L1062.1,849.0 L1063.6,854.4 L1065.0,857.8 L1066.9,857.8 L1068.9,856.6 L1070.6,854.9 L1072.1,851.9 L1073.6,849.0 L1075.0,850.7 L1076.8,850.0 L1078.0,855.2 L1079.2,866.9 L1080.2,877.3 L1080.9,880.2 L1082.0,875.0 L1083.2,877.6 L1084.6,877.6 L1086.5,877.0 L1088.0,876.5 L1089.5,872.1 L1091.6,868.1 L1093.5,864.3 L1094.9,866.9 L1096.4,869.6 L1098.3,871.1 L1100.1,871.7 L1101.3,871.7 L1102.7,874.3 L1104.5,875.8 L1105.7,873.6 L1107.5,870.6 L1109.2,868.4 L1110.7,869.2 L1112.2,866.9 L1113.7,867.2 L1115.1,870.2 L1116.6,872.1 L1118.5,874.0 L1120.0,875.0 L1121.9,875.5 L1123.7,875.0 L1125.1,874.3 L1126.6,872.1 L1128.4,871.4 L1129.9,871.7 L1131.3,873.1 L1132.8,866.2 L1134.3,868.1 L1135.8,870.2 L1137.2,869.2 L1138.7,867.2 L1140.6,868.1 L1142.5,869.2 L1144.6,870.2 L1146.5,871.4 L1148.4,872.1 L1150.5,872.1 L1152.4,871.1 L1154.3,869.6 L1156.1,870.6 L1157.6,873.6 L1158.7,876.5 L1160.2,877.3 L1161.7,876.5 L1163.2,879.5 L1164.6,879.0 L1166.1,880.2 L1167.6,882.0 L1169.1,879.5 L1170.5,877.3 L1171.6,875.5 L1173.0,877.6 L1174.5,877.0 L1176.0,877.3 L1177.5,878.4 L1179.4,879.0 L1181.1,881.4 L1182.9,882.0 L1184.8,882.9 L1186.7,882.0 L1188.5,882.0 L1190.0,881.7 L1191.5,880.5 L1193.0,879.9 L1194.4,882.4 L1195.5,888.3 L1196.5,894.2 L1197.7,890.5 L1199.2,890.8 L1200.6,892.7 L1202.4,891.3 L1204.3,890.2 L1205.8,888.3 L1207.3,883.9 L1208.3,874.3 L1209.5,870.2 L1211.2,868.4 L1212.4,859.6 L1213.6,851.9 L1214.6,852.2 L1216.1,860.8 L1217.1,861.3 L1218.0,856.6 L1219.5,855.4 L1221.0,852.5 L1222.4,852.9 L1223.9,849.6 L1225.4,851.0 L1227.2,852.9 L1228.9,853.4 L1230.8,852.5 L1232.3,849.6 L1233.3,844.5 L1234.5,844.1 L1235.7,853.7 L1236.7,859.6 L1238.2,861.8 L1239.7,866.9 L1240.7,880.2 L1241.6,880.5 L1242.6,874.3 L1243.7,871.4 L1244.5,859.6 L1245.1,851.9 L1246.3,855.2 L1248.1,855.9 L1249.6,858.8 L1251.0,860.8 L1252.9,859.3 L1254.4,860.3 L1255.9,861.3 L1257.8,861.3 L1259.6,860.3 L1261.0,856.6 L1262.2,852.5 L1263.7,853.4 L1265.5,852.9 L1266.9,851.5 L1268.1,849.6 L1269.6,852.9 L1271.1,855.4 L1272.5,855.9 L1273.6,859.6 L1275.5,860.8 L1277.0,861.8 L1278.4,860.8 L1279.9,863.3 L1281.4,862.8 L1282.4,860.8 L1283.9,864.3 L1285.4,865.5 L1286.8,869.2 L1288.3,870.2 L1290.2,869.6 L1291.7,868.4 L1292.7,867.7 L1293.8,868.4 L1295.2,864.7 L1296.7,860.3 L1297.9,856.9 L1299.4,856.3 L1300.5,860.3 L1301.6,855.9 L1302.6,859.6 L1304.5,856.6 L1306.4,856.3 L1307.9,855.4 L1309.4,854.9 L1310.9,856.3 L1312.6,855.9 L1314.4,856.3 L1316.3,855.9 L1317.3,852.9 L1318.5,847.0 L1319.7,845.6 L1321.2,846.6 L1322.6,852.2 L1323.7,858.1 L1324.4,870.2 L1325.9,869.6 L1327.7,869.2 L1329.1,868.4 L1330.3,867.2 L1331.8,869.2 L1333.6,869.2 L1335.0,869.6 L1336.5,867.7 L1337.7,867.2 L1338.9,869.2 L1340.3,867.7 L1341.8,866.2 L1343.3,865.5 L1344.8,864.3 L1346.2,865.8 L1348.0,866.2 L1349.5,866.6 L1350.6,865.2 L1352.1,869.2 L1353.6,870.2 L1355.1,869.6 L1356.5,873.1 L1358.0,873.6 L1359.8,872.5 L1361.6,870.2 L1363.0,870.6 L1364.5,872.5 L1366.0,872.8 L1367.4,874.3 L1368.9,875.8 L1370.4,874.3 L1371.9,873.6 L1373.3,868.1 L1374.2,864.3 L1375.7,864.7 L1377.2,864.7 L1378.2,858.8 L1378.9,855.9 L1380.1,855.4 L1381.1,843.4 L1382.2,836.7 L1383.4,830.1 L1384.1,824.2 L1384.8,812.4 L1385.6,797.7 L1386.3,780.0 L1386.9,752.0 L1389.5,734.5 L1391.6,740.4 L1393.6,734.0 L1395.2,690.0 L1395.8,662.0 L1396.6,645.0 L1397.4,660.0 L1398.4,664.0 L1399.4,662.5 L1400.6,673.5 L1402.0,667.0 L1403.2,658.7 L1404.8,645.8 L1405.8,626.5 L1406.5,600.0 L1407.2,570.0 L1408.0,540.0 L1408.6,475.8 L1409.5,421.3 L1410.5,394.7 L1411.6,394.7 L1412.7,416.8 L1413.9,456.6 L1415.7,461.8 L1416.9,428.6 L1417.9,408.7 L1418.6,408.7 L1419.8,441.9 L1420.8,494.6 L1421.6,468.4 L1422.3,452.2 L1423.8,444.8 L1424.8,450.4 L1426.0,438.9 L1427.5,443.4 L1429.2,439.7 L1430.4,406.5 L1431.6,406.5 L1433.1,425.7 L1434.1,461.0 L1435.1,482.0 L1436.6,474.3 L1437.8,483.2 L1439.3,491.7 L1440.4,475.8 L1441.5,470.6 L1442.5,469.6 L1443.7,486.1 L1444.9,496.4 L1446.3,497.9 L1447.8,499.1 L1449.3,519.7 L1451.0,520.0 L1452.2,494.9 L1453.3,447.0 L1454.7,437.5 L1456.2,436.0 L1457.7,448.5 L1459.2,444.1 L1460.6,450.7 L1462.1,464.0 L1463.6,465.5 L1465.0,467.7 L1466.1,447.8 L1467.3,418.3 L1468.4,418.6 L1469.5,428.6 L1470.5,406.5 L1471.4,380.0 L1471.6,350.0 L1472.4,307.3 L1473.1,268.7 L1474.2,248.8 L1475.3,248.8 L1476.2,260.9 L1477.3,270.9 L1478.4,274.7 L1479.5,271.4 L1480.4,279.7 L1481.7,269.8 L1482.6,274.2 L1483.4,281.4 L1484.8,278.1 L1485.9,283.0 L1487.3,283.0 L1488.2,281.9 L1488.6,307.3 L1489.3,326.7 L1490.0,301.8 L1490.8,285.2 L1491.9,290.2 L1493.0,285.2 L1493.9,284.7 L1495.0,290.2 L1496.1,301.8 L1496.6,312.9 L1496.9,340.0 L1497.5,380.0 L1498.2,406.5 L1498.9,434.5 L1499.7,398.4 L1500.9,398.4 L1501.9,424.2 L1503.4,447.8 L1504.8,447.8 L1506.3,443.4 L1507.8,438.9 L1509.3,440.4 L1510.3,433.1 L1511.2,439.7 L1512.2,433.1 L1513.2,431.6 L1514.1,409.5 L1514.6,395.0 L1516.0,360.4 L1517.9,364.9 L1520.0,404.3 L1521.1,403.6 L1523.0,378.1 L1524.7,391.8 L1526.2,403.6 L1527.7,408.7 L1528.9,427.2 L1529.9,453.7 L1530.6,481.4 L1531.8,477.3 L1532.8,490.5 L1534.3,516.3 L1535.3,508.2 L1536.2,483.2 L1537.3,430.1 L1538.3,393.3 L1539.2,393.3 L1540.2,449.3 L1541.2,428.6 L1542.7,408.7 L1543.9,422.7 L1545.4,450.7 L1546.8,478.7 L1548.3,505.3 L1549.8,509.7 L1551.0,497.9 L1552.4,481.7 L1553.9,465.5 L1555.4,443.4 L1556.0,443.4 L1557.2,458.1 L1558.6,458.8 L1560.1,473.6 L1561.3,446.3 L1562.3,430.8 L1563.3,431.3 L1564.5,445.6 L1565.7,448.1 L1567.2,444.8 L1568.2,433.8 L1569.2,433.3 L1570.4,436.7 L1571.6,439.7 L1573.1,456.6 L1574.1,483.2 L1574.6,493.3 L1575.2,505.4 L1576.3,500.4 L1577.1,501.0 L1578.2,514.2 L1579.3,507.6 L1580.4,508.2 L1581.5,516.5 L1582.3,526.4 L1583.2,527.5 L1584.1,517.6 L1585.2,506.5 L1586.0,506.5 L1587.1,520.9 L1587.8,541.9 L1588.5,564.0 L1588.9,571.1 L1589.8,564.0 L1591.2,566.2 L1591.8,557.3 L1592.6,537.4 L1594.0,534.1 L1595.1,518.7 L1596.5,501.0 L1598.1,503.2 L1599.8,504.9 L1600.7,516.5 L1601.8,517.6 L1603.1,518.7 L1604.0,521.4 L1605.3,517.0 L1607.0,522.0 L1608.1,513.1 L1609.7,508.2 L1610.3,496.6 L1611.0,482.8 L1611.9,483.3 L1612.8,493.3 L1614.1,492.2 L1615.5,490.5 L1616.6,488.8 L1617.2,480.0 L1617.9,470.2 L1619.3,471.7 L1620.5,488.3 L1621.9,486.1 L1623.5,487.2 L1625.2,490.5 L1626.8,493.3 L1627.9,499.9 L1629.0,508.7 L1630.2,508.9 L1631.3,505.4 L1632.4,491.0 L1633.1,480.0 L1633.8,456.3 L1634.9,447.4 L1636.3,449.1 L1637.1,438.6 L1637.9,426.5 L1639.0,417.6 L1640.1,408.8 L1641.0,407.1 L1641.9,417.6 L1642.6,428.7 L1643.8,440.8 L1644.9,455.2 L1645.6,449.1 L1646.7,448.6 L1647.6,457.4 L1648.9,456.3 L1650.7,453.5 L1651.5,446.3 L1652.0,441.9 L1652.9,441.9 L1654.0,446.3 L1654.8,454.1 L1655.9,465.7 L1656.7,465.1 L1657.6,459.6 L1659.2,463.5 L1660.3,470.6 L1661.1,471.7 L1662.2,471.7 L1663.1,483.9 L1663.6,492.7 L1664.7,501.0 L1666.2,499.9 L1667.7,498.8 L1668.6,487.2 L1669.5,482.8 L1670.6,482.2 L1671.4,489.4 L1672.5,497.7 L1673.6,501.6 L1674.7,496.1 L1675.8,487.2 L1676.9,479.5 L1678.0,474.0 L1678.8,469.0 L1680.2,467.3 L1681.3,478.4 L1682.1,487.2 L1683.0,504.9 L1684.1,504.9 L1685.2,501.6 L1686.3,500.5 L1687.2,482.2 L1687.9,482.2 L1689.0,489.4 L1689.8,501.6 L1691.3,498.3 L1692.4,499.9 L1693.5,502.7 L1694.2,507.1 L1694.2,507.6 L1695.0,517.6 L1695.9,530.8 L1697.0,531.4 L1697.9,528.6 L1698.6,507.6 L1698.7,494.9 L1700.1,492.2 L1701.2,498.8 L1702.5,512.0 L1703.6,512.0 L1704.2,494.4 L1705.6,492.7 L1707.1,488.3 L1708.4,489.4 L1710.0,489.4 L1710.8,481.7 L1711.5,475.6 L1712.2,476.2 L1713.3,482.8 L1714.5,486.7 L1715.6,480.6 L1716.7,475.1 L1717.2,471.7 L1718.9,471.7 L1720.0,461.8 L1720.8,451.9 L1721.4,440.8 L1721.9,428.7 L1722.2,412.1 L1722.7,401.0 L1723.3,390.0 L1723.5,375.0 L1724.2,364.0 L1725.6,355.1 L1726.2,341.9 L1726.7,324.2 L1727.8,324.2 L1728.9,334.7 L1729.7,324.2 L1730.6,315.4 L1731.1,291.0 L1731.5,247.3 L1732.2,214.2 L1732.8,198.7 L1733.7,198.9 L1734.5,212.5 L1735.2,209.8 L1736.1,198.7 L1737.0,187.7 L1738.1,187.7 L1739.2,194.3 L1740.0,214.2 L1740.8,236.3 L1741.4,258.4 L1742.2,276.1 L1742.9,287.7 L1743.8,276.1 L1744.9,267.2 L1746.3,262.2 L1747.4,262.2 L1748.3,273.8 L1749.4,283.5 L1751.4,284.4 L1752.1,299.9 L1753.2,318.7 L1754.3,330.8 L1755.4,338.6 L1756.2,324.2 L1757.1,303.2 L1758.2,305.4 L1759.1,307.1 L1759.9,318.1 L1761.0,305.4 L1761.6,290.0 L1761.9,263.9 L1762.6,240.2 L1763.5,240.2 L1764.6,245.1 L1765.4,265.0 L1766.5,262.8 L1767.3,258.4 L1768.1,267.2 L1769.0,265.0 L1769.8,251.7 L1770.4,251.7 L1771.2,263.9 L1772.0,275.0 L1772.7,288.5 L1774.2,286.0 L1775.8,281.9 L1776.4,293.3 L1777.5,305.4 L1779.0,316.5 L1779.7,330.8 L1780.9,322.0 L1782.0,321.4" fill="none" stroke="#806ff2" stroke-width="2.6" stroke-linejoin="round" stroke-linecap="butt"/>
<path d="M112.6,189.0 L113.2,232.0 L113.8,300.0 L114.2,340.0 L114.7,420.0 L115.0,500.0 L115.3,526.5 L116.5,544.2 L118.9,558.9 L120.3,576.6 L121.4,610.0 L121.8,623.8 L122.4,624.5 L123.6,605.4 L124.8,605.8 L125.3,609.8 L128.7,612.0 L129.9,633.4 L131.7,626.7 L132.7,626.4 L134.2,634.1 L136.1,627.0 L137.1,626.4 L138.3,634.8 L139.1,628.2 L140.5,635.6 L142.7,629.7 L143.9,628.9 L145.7,633.4 L148.6,634.4 L149.8,628.2 L150.8,637.8 L152.3,633.4 L153.3,638.5 L154.8,621.6 L156.7,627.5 L158.2,630.4 L160.1,628.9 L160.7,631.9 L161.9,627.5 L163.7,627.5 L165.6,628.9 L169.3,629.7 L173.7,630.7 L176.6,632.6 L179.6,635.9 L182.5,635.6 L185.5,635.6 L188.4,637.5 L191.4,636.3 L193.6,634.1 L195.0,636.3 L196.5,639.3 L198.0,639.3 L198.7,628.9 L200.9,630.4 L202.4,629.7 L203.9,631.9 L206.1,632.6 L209.0,627.9 L210.5,632.6 L213.5,631.2 L216.4,631.6 L218.6,630.4 L220.1,632.6 L223.8,633.4 L226.0,631.9 L229.7,633.8 L232.6,631.9 L233.4,635.6 L234.1,631.9 L237.0,632.2 L238.5,633.4 L240.7,641.5 L241.8,642.6 L243.7,634.1 L245.9,633.4 L248.1,627.0 L250.3,630.4 L252.5,633.1 L254.7,630.4 L257.4,627.0 L259.9,631.9 L261.4,634.8 L262.8,630.4 L264.3,631.2 L265.8,629.4 L267.3,629.4 L268.7,626.0 L270.6,630.4 L272.4,628.5 L274.3,626.4 L276.8,630.4 L279.0,634.1 L281.3,634.4 L282.7,636.8 L285.4,621.6 L286.9,623.0 L288.6,622.6 L290.4,629.7 L292.3,629.7 L294.5,626.4 L296.7,626.3 L298.9,626.7 L301.1,625.0 L303.4,625.6 L306.3,624.5 L309.3,622.0 L310.7,622.3 L312.2,623.5 L314.4,622.0 L316.6,621.6 L319.6,622.0 L321.0,622.6 L324.0,619.7 L325.5,619.7 L326.2,628.9 L328.4,625.3 L330.6,618.6 L332.5,620.1 L333.6,618.3 L335.8,621.6 L338.0,620.1 L340.2,626.7 L342.4,629.7 L344.6,629.4 L348.3,635.6 L350.5,636.8 L352.7,637.8 L354.2,637.8 L356.4,636.8 L357.9,639.3 L359.4,641.5 L360.5,636.3 L362.0,643.7 L363.8,642.6 L366.0,640.4 L368.2,641.5 L370.4,645.2 L372.6,641.9 L374.8,642.6 L376.3,644.4 L378.2,643.2 L379.1,643.7 L379.7,541.5 L381.0,541.0 L382.5,543.8 L384.9,543.0 L387.2,541.0 L389.1,537.6 L390.3,543.0 L393.5,544.6 L395.8,547.7 L397.4,545.4 L399.7,546.6 L402.1,546.9 L403.6,545.4 L405.7,537.6 L408.3,541.0 L410.7,542.6 L412.3,546.9 L413.5,554.8 L415.7,553.2 L416.9,544.6 L418.5,542.6 L420.4,542.3 L421.6,545.1 L424.0,545.1 L427.1,542.3 L428.7,546.6 L431.3,543.8 L433.4,545.4 L434.9,544.3 L437.3,545.4 L439.6,543.0 L441.7,546.9 L443.6,547.3 L445.9,546.2 L448.2,547.7 L450.6,549.3 L452.9,548.8 L455.3,546.9 L456.9,552.4 L458.4,554.0 L459.5,548.5 L461.5,550.9 L464.7,549.8 L466.2,545.4 L468.6,542.3 L470.9,541.5 L473.3,538.3 L474.9,533.6 L476.4,533.2 L478.8,532.1 L481.1,533.2 L483.5,533.6 L485.8,529.0 L487.1,528.2 L488.2,529.4 L489.7,526.6 L491.3,529.7 L493.9,529.0 L496.4,522.7 L498.3,524.7 L500.7,525.8 L503.0,527.4 L504.9,525.8 L507.2,523.5 L508.0,562.6 L508.3,625.7 L509.6,627.2 L511.8,627.5 L514.0,626.9 L516.2,622.0 L518.4,620.1 L521.4,619.8 L524.3,619.1 L526.5,617.6 L528.7,619.8 L530.2,622.7 L532.1,619.1 L534.2,619.5 L536.5,618.0 L538.6,622.0 L540.1,623.5 L542.0,619.5 L543.3,614.2 L544.9,618.6 L547.2,619.8 L550.8,621.3 L555.3,623.0 L557.5,622.0 L558.9,622.7 L561.2,621.3 L563.4,622.0 L565.6,622.7 L568.5,620.1 L570.7,619.8 L572.9,620.1 L575.2,619.5 L577.4,618.6 L579.6,618.0 L581.8,619.8 L583.7,621.0 L584.7,618.3 L585.8,610.7 L587.2,613.2 L589.9,615.1 L592.1,615.4 L594.3,615.1 L596.5,614.6 L599.0,613.9 L601.7,616.1 L604.6,614.6 L606.1,616.5 L608.3,618.0 L610.5,617.6 L613.5,619.1 L616.4,617.6 L619.4,617.1 L621.6,619.1 L623.8,619.5 L626.0,619.1 L627.0,625.7 L628.2,623.5 L629.7,615.4 L631.9,616.1 L634.8,616.1 L637.8,615.4 L640.0,616.1 L642.2,618.0 L644.4,620.5 L647.4,621.0 L649.6,620.1 L651.8,619.8 L654.7,621.0 L656.9,618.3 L658.9,617.6 L660.6,621.3 L662.1,621.0 L664.3,617.6 L666.5,614.6 L668.7,615.1 L670.6,617.6 L671.7,624.2 L672.7,643.4 L674.6,641.2 L676.8,640.7 L679.5,640.1 L682.0,643.1 L683.9,640.7 L686.4,640.4 L689.4,639.7 L691.3,641.2 L693.0,639.7 L695.3,640.1 L697.5,641.9 L699.7,644.8 L701.9,645.6 L704.1,644.1 L706.3,644.1 L708.5,642.6 L710.7,642.6 L712.9,645.6 L714.0,649.3 L714.9,644.8 L715.7,645.1 L716.0,674.3 L718.1,673.1 L721.0,672.8 L723.3,672.1 L725.5,672.5 L727.7,671.1 L729.1,670.6 L730.6,672.5 L732.5,674.0 L734.3,670.2 L737.3,668.1 L739.5,668.4 L742.4,669.2 L744.6,668.9 L746.8,669.9 L749.0,668.4 L748.8,669.4 L751.8,671.9 L753.6,668.6 L755.9,671.3 L757.7,676.7 L759.2,677.5 L760.3,695.9 L762.1,696.3 L765.1,694.9 L768.7,692.9 L770.9,694.4 L773.2,692.9 L776.8,692.9 L779.1,694.9 L781.6,696.3 L783.5,694.4 L785.7,693.7 L788.6,694.4 L791.3,696.6 L793.3,694.9 L795.7,695.9 L798.2,693.7 L799.2,693.4 L800.4,673.8 L801.9,676.0 L803.1,695.9 L804.8,695.9 L806.6,693.7 L808.5,692.2 L811.0,695.2 L812.9,693.7 L815.2,693.4 L817.4,693.7 L818.4,691.5 L819.9,696.6 L821.8,696.3 L824.0,692.9 L826.2,690.4 L827.2,688.5 L829.2,690.7 L831.1,692.9 L833.1,691.0 L835.8,691.5 L838.4,690.4 L840.2,692.9 L842.4,697.4 L843.4,689.3 L844.6,670.1 L846.1,669.8 L847.3,692.2 L849.0,693.7 L850.8,695.9 L853.5,694.9 L856.4,693.7 L858.6,692.2 L860.8,696.6 L863.0,694.4 L866.0,692.2 L868.2,689.0 L870.0,691.5 L871.9,689.6 L874.1,689.0 L875.9,691.5 L877.8,690.0 L880.7,693.4 L882.6,691.5 L885.2,691.9 L887.4,690.7 L888.1,673.3 L889.1,700.3 L891.0,700.3 L894.0,698.8 L896.2,698.1 L898.4,697.4 L900.6,701.0 L902.8,698.8 L906.5,698.1 L910.2,701.0 L912.4,698.8 L914.6,700.3 L916.8,698.1 L918.6,697.4 L920.5,701.0 L922.7,698.8 L925.7,699.6 L929.4,700.3 L930.4,681.9 L931.6,679.7 L932.7,705.5 L934.5,706.2 L937.2,704.7 L939.7,708.4 L942.6,707.7 L944.8,707.7 L947.5,705.2 L950.0,709.2 L952.2,707.7 L954.4,707.7 L956.6,704.7 L958.1,706.2 L960.3,708.4 L962.5,705.8 L964.3,705.2 L966.2,705.8 L968.1,704.0 L970.2,706.9 L972.1,705.5 L973.6,707.2 L974.6,676.7 L976.1,673.8 L977.3,693.7 L979.5,695.2 L981.7,694.9 L984.6,694.4 L987.6,692.9 L989.8,695.2 L992.0,694.4 L994.2,695.4 L997.1,693.7 L999.7,697.4 L1001.6,696.3 L1004.5,693.7 L1007.0,691.5 L1009.7,692.9 L1011.9,691.9 L1014.1,691.5 L1016.3,690.4 L1017.3,665.7 L1018.5,689.3 L1018.9,690.2 L1020.6,689.5 L1023.6,688.4 L1026.5,686.5 L1027.7,685.5 L1029.5,689.5 L1031.2,690.9 L1032.4,694.9 L1034.2,690.9 L1036.5,687.6 L1038.6,690.9 L1040.5,691.7 L1043.5,690.9 L1045.7,691.4 L1047.2,689.5 L1049.4,693.9 L1050.8,690.9 L1052.3,691.7 L1053.3,698.3 L1055.7,698.3 L1057.5,693.9 L1058.7,691.4 L1060.1,690.9 L1060.7,666.6 L1061.6,667.4 L1062.6,691.4 L1064.8,690.2 L1066.6,687.6 L1068.5,690.9 L1070.7,690.5 L1073.7,690.9 L1076.3,688.4 L1078.1,691.7 L1080.3,692.4 L1082.5,692.0 L1084.7,693.2 L1086.6,690.2 L1088.4,693.9 L1090.6,694.9 L1093.1,695.4 L1095.8,693.2 L1097.3,692.4 L1099.0,696.8 L1100.5,693.9 L1102.0,702.7 L1103.9,705.7 L1104.9,690.2 L1105.8,678.4 L1107.6,679.6 L1109.0,682.1 L1112.0,681.4 L1114.9,681.1 L1117.2,678.4 L1119.4,681.1 L1122.3,681.4 L1125.3,681.1 L1128.2,684.3 L1130.4,685.5 L1131.4,690.9 L1133.4,692.0 L1135.3,693.2 L1136.8,697.6 L1138.8,700.2 L1141.2,699.0 L1142.9,699.8 L1145.2,699.8 L1146.2,686.5 L1147.4,682.5 L1149.1,683.6 L1150.3,679.2 L1153.3,679.9 L1155.5,679.2 L1157.4,678.4 L1159.2,681.1 L1160.6,675.2 L1162.8,678.4 L1165.0,678.1 L1165.8,674.7 L1168.0,678.1 L1170.9,677.7 L1173.2,678.4 L1175.4,676.9 L1176.5,675.2 L1178.6,679.2 L1181.0,676.9 L1182.7,670.8 L1184.5,671.8 L1185.7,678.4 L1187.9,679.6 L1189.4,679.9 L1190.1,651.9 L1191.3,648.2 L1193.8,647.8 L1195.7,646.0 L1197.5,648.2 L1199.7,649.7 L1201.9,648.7 L1204.1,648.2 L1205.6,646.3 L1207.8,648.2 L1210.0,648.9 L1212.2,648.9 L1213.4,653.4 L1214.4,655.6 L1215.4,651.2 L1216.9,653.7 L1218.1,654.8 L1219.6,653.1 L1222.5,652.6 L1225.5,650.4 L1227.7,651.6 L1229.6,650.7 L1232.1,651.6 L1233.6,656.3 L1235.0,647.2 L1237.3,650.4 L1239.5,649.7 L1241.7,651.9 L1243.1,652.6 L1245.4,655.6 L1247.9,658.1 L1250.5,657.8 L1252.7,657.0 L1253.8,654.8 L1255.7,651.9 L1257.6,655.6 L1259.1,647.8 L1260.8,649.7 L1262.3,649.2 L1263.8,642.3 L1265.3,640.8 L1267.5,642.8 L1269.7,643.3 L1271.4,643.1 L1273.4,635.7 L1275.3,633.9 L1276.7,642.3 L1278.2,643.1 L1279.3,636.4 L1280.0,637.2 L1282.1,637.6 L1283.8,636.3 L1285.2,635.0 L1286.5,639.0 L1288.2,639.8 L1290.4,639.6 L1292.6,641.6 L1294.5,639.0 L1296.5,640.5 L1298.1,641.3 L1300.3,640.2 L1302.5,641.3 L1304.4,639.6 L1306.4,641.3 L1308.1,642.4 L1310.3,642.4 L1313.0,642.7 L1315.2,641.3 L1317.4,641.8 L1318.6,643.5 L1319.7,647.1 L1320.8,640.2 L1322.4,638.5 L1324.1,634.1 L1325.7,635.7 L1327.4,636.8 L1329.6,636.5 L1331.8,636.8 L1334.2,636.1 L1336.2,636.3 L1338.4,637.2 L1339.8,633.5 L1341.2,630.5 L1343.4,630.2 L1345.6,627.7 L1347.3,629.1 L1349.3,629.9 L1350.6,631.6 L1352.6,630.2 L1354.5,628.6 L1356.1,629.7 L1358.1,630.8 L1360.0,630.2 L1361.4,627.7 L1362.7,634.6 L1363.8,630.5 L1364.9,620.3 L1366.6,621.0 L1368.3,621.4 L1369.9,620.8 L1370.7,610.9 L1371.8,607.6 L1373.2,606.5 L1374.9,607.0 L1377.1,608.7 L1379.3,607.0 L1381.3,604.8 L1383.2,606.5 L1384.8,609.2 L1386.2,612.0 L1387.0,618.6 L1388.1,622.5 L1389.5,625.2 L1390.6,630.2 L1392.3,633.5 L1394.2,634.1 L1395.9,637.9 L1397.5,642.4 L1399.2,645.1 L1400.9,648.7 L1402.5,647.9 L1404.2,647.3 L1405.8,646.2 L1406.7,649.5 L1407.5,645.1 L1408.6,644.2 L1409.1,649.5 L1409.7,658.4 L1410.5,663.9 L1411.3,668.1 L1412.2,661.7 L1413.0,647.3 L1413.8,640.7 L1414.7,640.2 L1415.8,645.1 L1416.9,650.6 L1418.0,655.6 L1418.9,658.9 L1419.6,657.3 L1421.1,657.8 L1421.4,679.5 L1422.1,732.5 L1424.3,734.0 L1426.2,739.6 L1428.7,739.2 L1431.2,737.7 L1433.6,736.9 L1434.6,741.4 L1436.1,754.9 L1438.6,756.1 L1441.3,758.3 L1443.5,763.5 L1444.9,767.9 L1446.9,771.6 L1448.6,778.2 L1450.8,785.6 L1451.9,767.9 L1453.1,753.2 L1454.5,756.1 L1456.7,758.3 L1458.9,759.0 L1459.7,767.9 L1460.7,797.4 L1461.6,808.8 L1462.6,829.5 L1463.4,844.2 L1465.6,845.7 L1467.5,847.5 L1469.3,850.1 L1471.5,844.9 L1472.9,847.9 L1474.4,856.0 L1475.9,861.9 L1477.4,870.7 L1478.8,885.5 L1480.8,881.0 L1482.5,884.7 L1484.7,889.2 L1486.9,888.4 L1489.2,889.9 L1491.1,891.4 L1492.5,900.9 L1495.0,903.2 L1496.5,903.9 L1497.3,858.9 L1498.4,858.2 L1499.0,882.5 L1500.5,891.4 L1501.4,916.4 L1503.2,917.9 L1505.4,920.8 L1507.6,923.8 L1509.3,925.3 L1510.5,920.1 L1511.7,917.9 L1512.7,940.0 L1513.5,951.8 L1514.9,950.3 L1516.7,945.2 L1517.9,941.5 L1520.1,938.5 L1522.3,936.3 L1524.5,939.3 L1525.6,942.9 L1527.0,939.3 L1528.9,940.0 L1530.0,943.7 L1531.9,942.9 L1533.4,943.7 L1534.8,937.0 L1536.3,922.3 L1537.8,906.1 L1538.8,900.9 L1540.0,912.0 L1541.2,937.8 L1542.6,935.6 L1544.1,929.7 L1545.9,922.3 L1547.4,921.6 L1548.8,917.9 L1549.6,914.9 L1550.3,873.7 L1551.0,842.7 L1552.1,842.0 L1552.7,856.0 L1554.4,850.1 L1556.2,850.8 L1559.2,850.4 L1561.8,850.1 L1562.8,844.2 L1563.9,835.4 L1565.0,832.4 L1567.3,831.7 L1568.7,830.2 L1570.2,826.5 L1572.1,822.8 L1573.9,820.6 L1576.1,816.2 L1577.6,813.3 L1578.6,810.3 L1579.5,839.1 L1580.5,823.6 L1581.6,807.4 L1583.5,805.2 L1585.7,802.9 L1586.9,782.6 L1587.9,767.9 L1588.6,751.7 L1590.4,750.2 L1591.3,729.6 L1591.9,714.8 L1593.8,713.4 L1595.7,711.9 L1597.8,717.0 L1599.2,713.4 L1601.1,708.9 L1602.6,703.1 L1604.5,697.2 L1606.0,688.3 L1607.0,680.9 L1608.1,682.4 L1609.3,676.5 L1611.0,669.2 L1612.9,666.2 L1615.1,667.7 L1617.4,666.9 L1619.3,665.5 L1619.6,663.2 L1620.7,654.9 L1621.5,632.3 L1623.1,631.5 L1624.5,630.6 L1625.1,660.5 L1625.6,676.5 L1626.7,670.0 L1627.6,659.4 L1628.4,638.4 L1628.9,626.8 L1630.3,626.4 L1630.9,636.2 L1632.0,631.7 L1633.6,628.4 L1635.5,626.8 L1637.0,625.7 L1638.1,623.5 L1639.2,622.4 L1639.7,605.2 L1640.3,586.5 L1641.7,576.5 L1643.6,576.3 L1645.8,576.0 L1647.4,576.3 L1648.8,574.3 L1649.7,574.9 L1650.2,588.7 L1650.5,600.3 L1651.9,593.1 L1653.5,591.8 L1655.2,590.9 L1656.3,588.7 L1657.2,584.2 L1658.5,582.9 L1659.8,583.1 L1661.3,583.7 L1662.0,582.9 L1662.9,596.4 L1664.0,611.9 L1665.1,617.9 L1665.7,605.2 L1666.2,597.5 L1667.6,594.2 L1668.4,582.0 L1670.1,580.9 L1671.7,578.9 L1673.4,577.6 L1675.1,578.9 L1675.9,584.2 L1677.3,587.6 L1678.4,588.1 L1679.3,580.9 L1680.0,571.0 L1681.7,568.8 L1683.3,571.5 L1685.0,572.6 L1686.7,573.8 L1687.4,583.1 L1688.9,579.6 L1690.5,582.0 L1692.2,580.0 L1693.8,579.8 L1695.8,581.8 L1696.9,585.4 L1697.7,590.3 L1699.4,586.5 L1701.4,582.6 L1703.2,584.2 L1704.9,585.1 L1706.5,585.9 L1708.0,588.9 L1709.9,588.1 L1711.0,585.9 L1712.1,585.9 L1712.8,596.4 L1713.7,607.4 L1714.3,614.1 L1715.9,615.2 L1716.8,620.7 L1717.6,631.7 L1718.1,638.9 L1719.2,639.6 L1719.5,654.7 L1719.8,666.2 L1721.7,664.7 L1723.5,661.7 L1724.6,662.1 L1725.7,665.0 L1726.1,676.8 L1726.5,687.9 L1727.6,693.0 L1728.7,699.0 L1729.0,710.0 L1729.2,727.1 L1731.9,723.3 L1733.6,719.4 L1735.2,718.8 L1735.8,732.1 L1736.3,752.0 L1738.6,754.2 L1739.7,770.8 L1741.3,774.1 L1742.4,779.6 L1745.2,782.4 L1745.7,798.4 L1746.4,815.0 L1746.8,833.2 L1748.4,830.7 L1749.0,856.4 L1749.5,885.5 L1750.9,892.1 L1752.6,895.4 L1753.4,889.6 L1754.2,864.7 L1754.8,851.5 L1755.9,853.5 L1757.1,853.5 L1758.1,843.2 L1759.2,849.0 L1760.5,844.8 L1761.5,843.2 L1762.9,838.2 L1764.2,839.9 L1765.4,841.5 L1766.7,837.4 L1768.3,837.4 L1769.4,843.2 L1770.8,844.4 L1772.5,846.1 L1773.3,845.3 L1775.0,846.5 L1775.8,864.7 L1776.6,880.9 L1777.4,873.0 L1778.3,852.3 L1779.5,851.5 L1781.2,850.2 L1782.0,849.8" fill="none" stroke="#161616" stroke-width="2.3" stroke-linejoin="round" stroke-linecap="butt"/>
<!-- bars -->
<g mask="url(#mstripes)">
<g clip-path="url(#cpos)" opacity="0.6"><path d="M111.8,655.1 L112.6,189.0 L113.2,232.0 L113.8,300.0 L114.2,340.0 L114.7,420.0 L115.0,500.0 L115.3,526.5 L116.5,544.2 L118.9,558.9 L120.3,576.6 L121.4,610.0 L121.8,623.8 L122.4,624.5 L123.6,605.4 L124.8,605.8 L125.3,609.8 L128.7,612.0 L129.9,633.4 L131.7,626.7 L132.7,626.4 L134.2,634.1 L136.1,627.0 L137.1,626.4 L138.3,634.8 L139.1,628.2 L140.5,635.6 L142.7,629.7 L143.9,628.9 L145.7,633.4 L148.6,634.4 L149.8,628.2 L150.8,637.8 L152.3,633.4 L153.3,638.5 L154.8,621.6 L156.7,627.5 L158.2,630.4 L160.1,628.9 L160.7,631.9 L161.9,627.5 L163.7,627.5 L165.6,628.9 L169.3,629.7 L173.7,630.7 L176.6,632.6 L179.6,635.9 L182.5,635.6 L185.5,635.6 L188.4,637.5 L191.4,636.3 L193.6,634.1 L195.0,636.3 L196.5,639.3 L198.0,639.3 L198.7,628.9 L200.9,630.4 L202.4,629.7 L203.9,631.9 L206.1,632.6 L209.0,627.9 L210.5,632.6 L213.5,631.2 L216.4,631.6 L218.6,630.4 L220.1,632.6 L223.8,633.4 L226.0,631.9 L229.7,633.8 L232.6,631.9 L233.4,635.6 L234.1,631.9 L237.0,632.2 L238.5,633.4 L240.7,641.5 L241.8,642.6 L243.7,634.1 L245.9,633.4 L248.1,627.0 L250.3,630.4 L252.5,633.1 L254.7,630.4 L257.4,627.0 L259.9,631.9 L261.4,634.8 L262.8,630.4 L264.3,631.2 L265.8,629.4 L267.3,629.4 L268.7,626.0 L270.6,630.4 L272.4,628.5 L274.3,626.4 L276.8,630.4 L279.0,634.1 L281.3,634.4 L282.7,636.8 L285.4,621.6 L286.9,623.0 L288.6,622.6 L290.4,629.7 L292.3,629.7 L294.5,626.4 L296.7,626.3 L298.9,626.7 L301.1,625.0 L303.4,625.6 L306.3,624.5 L309.3,622.0 L310.7,622.3 L312.2,623.5 L314.4,622.0 L316.6,621.6 L319.6,622.0 L321.0,622.6 L324.0,619.7 L325.5,619.7 L326.2,628.9 L328.4,625.3 L330.6,618.6 L332.5,620.1 L333.6,618.3 L335.8,621.6 L338.0,620.1 L340.2,626.7 L342.4,629.7 L344.6,629.4 L348.3,635.6 L350.5,636.8 L352.7,637.8 L354.2,637.8 L356.4,636.8 L357.9,639.3 L359.4,641.5 L360.5,636.3 L362.0,643.7 L363.8,642.6 L366.0,640.4 L368.2,641.5 L370.4,645.2 L372.6,641.9 L374.8,642.6 L376.3,644.4 L378.2,643.2 L379.1,643.7 L379.7,541.5 L381.0,541.0 L382.5,543.8 L384.9,543.0 L387.2,541.0 L389.1,537.6 L390.3,543.0 L393.5,544.6 L395.8,547.7 L397.4,545.4 L399.7,546.6 L402.1,546.9 L403.6,545.4 L405.7,537.6 L408.3,541.0 L410.7,542.6 L412.3,546.9 L413.5,554.8 L415.7,553.2 L416.9,544.6 L418.5,542.6 L420.4,542.3 L421.6,545.1 L424.0,545.1 L427.1,542.3 L428.7,546.6 L431.3,543.8 L433.4,545.4 L434.9,544.3 L437.3,545.4 L439.6,543.0 L441.7,546.9 L443.6,547.3 L445.9,546.2 L448.2,547.7 L450.6,549.3 L452.9,548.8 L455.3,546.9 L456.9,552.4 L458.4,554.0 L459.5,548.5 L461.5,550.9 L464.7,549.8 L466.2,545.4 L468.6,542.3 L470.9,541.5 L473.3,538.3 L474.9,533.6 L476.4,533.2 L478.8,532.1 L481.1,533.2 L483.5,533.6 L485.8,529.0 L487.1,528.2 L488.2,529.4 L489.7,526.6 L491.3,529.7 L493.9,529.0 L496.4,522.7 L498.3,524.7 L500.7,525.8 L503.0,527.4 L504.9,525.8 L507.2,523.5 L508.0,562.6 L508.3,625.7 L509.6,627.2 L511.8,627.5 L514.0,626.9 L516.2,622.0 L518.4,620.1 L521.4,619.8 L524.3,619.1 L526.5,617.6 L528.7,619.8 L530.2,622.7 L532.1,619.1 L534.2,619.5 L536.5,618.0 L538.6,622.0 L540.1,623.5 L542.0,619.5 L543.3,614.2 L544.9,618.6 L547.2,619.8 L550.8,621.3 L555.3,623.0 L557.5,622.0 L558.9,622.7 L561.2,621.3 L563.4,622.0 L565.6,622.7 L568.5,620.1 L570.7,619.8 L572.9,620.1 L575.2,619.5 L577.4,618.6 L579.6,618.0 L581.8,619.8 L583.7,621.0 L584.7,618.3 L585.8,610.7 L587.2,613.2 L589.9,615.1 L592.1,615.4 L594.3,615.1 L596.5,614.6 L599.0,613.9 L601.7,616.1 L604.6,614.6 L606.1,616.5 L608.3,618.0 L610.5,617.6 L613.5,619.1 L616.4,617.6 L619.4,617.1 L621.6,619.1 L623.8,619.5 L626.0,619.1 L627.0,625.7 L628.2,623.5 L629.7,615.4 L631.9,616.1 L634.8,616.1 L637.8,615.4 L640.0,616.1 L642.2,618.0 L644.4,620.5 L647.4,621.0 L649.6,620.1 L651.8,619.8 L654.7,621.0 L656.9,618.3 L658.9,617.6 L660.6,621.3 L662.1,621.0 L664.3,617.6 L666.5,614.6 L668.7,615.1 L670.6,617.6 L671.7,624.2 L672.7,643.4 L674.6,641.2 L676.8,640.7 L679.5,640.1 L682.0,643.1 L683.9,640.7 L686.4,640.4 L689.4,639.7 L691.3,641.2 L693.0,639.7 L695.3,640.1 L697.5,641.9 L699.7,644.8 L701.9,645.6 L704.1,644.1 L706.3,644.1 L708.5,642.6 L710.7,642.6 L712.9,645.6 L714.0,649.3 L714.9,644.8 L715.7,645.1 L716.0,674.3 L718.1,673.1 L721.0,672.8 L723.3,672.1 L725.5,672.5 L727.7,671.1 L729.1,670.6 L730.6,672.5 L732.5,674.0 L734.3,670.2 L737.3,668.1 L739.5,668.4 L742.4,669.2 L744.6,668.9 L746.8,669.9 L749.0,668.4 L748.8,669.4 L751.8,671.9 L753.6,668.6 L755.9,671.3 L757.7,676.7 L759.2,677.5 L760.3,695.9 L762.1,696.3 L765.1,694.9 L768.7,692.9 L770.9,694.4 L773.2,692.9 L776.8,692.9 L779.1,694.9 L781.6,696.3 L783.5,694.4 L785.7,693.7 L788.6,694.4 L791.3,696.6 L793.3,694.9 L795.7,695.9 L798.2,693.7 L799.2,693.4 L800.4,673.8 L801.9,676.0 L803.1,695.9 L804.8,695.9 L806.6,693.7 L808.5,692.2 L811.0,695.2 L812.9,693.7 L815.2,693.4 L817.4,693.7 L818.4,691.5 L819.9,696.6 L821.8,696.3 L824.0,692.9 L826.2,690.4 L827.2,688.5 L829.2,690.7 L831.1,692.9 L833.1,691.0 L835.8,691.5 L838.4,690.4 L840.2,692.9 L842.4,697.4 L843.4,689.3 L844.6,670.1 L846.1,669.8 L847.3,692.2 L849.0,693.7 L850.8,695.9 L853.5,694.9 L856.4,693.7 L858.6,692.2 L860.8,696.6 L863.0,694.4 L866.0,692.2 L868.2,689.0 L870.0,691.5 L871.9,689.6 L874.1,689.0 L875.9,691.5 L877.8,690.0 L880.7,693.4 L882.6,691.5 L885.2,691.9 L887.4,690.7 L888.1,673.3 L889.1,700.3 L891.0,700.3 L894.0,698.8 L896.2,698.1 L898.4,697.4 L900.6,701.0 L902.8,698.8 L906.5,698.1 L910.2,701.0 L912.4,698.8 L914.6,700.3 L916.8,698.1 L918.6,697.4 L920.5,701.0 L922.7,698.8 L925.7,699.6 L929.4,700.3 L930.4,681.9 L931.6,679.7 L932.7,705.5 L934.5,706.2 L937.2,704.7 L939.7,708.4 L942.6,707.7 L944.8,707.7 L947.5,705.2 L950.0,709.2 L952.2,707.7 L954.4,707.7 L956.6,704.7 L958.1,706.2 L960.3,708.4 L962.5,705.8 L964.3,705.2 L966.2,705.8 L968.1,704.0 L970.2,706.9 L972.1,705.5 L973.6,707.2 L974.6,676.7 L976.1,673.8 L977.3,693.7 L979.5,695.2 L981.7,694.9 L984.6,694.4 L987.6,692.9 L989.8,695.2 L992.0,694.4 L994.2,695.4 L997.1,693.7 L999.7,697.4 L1001.6,696.3 L1004.5,693.7 L1007.0,691.5 L1009.7,692.9 L1011.9,691.9 L1014.1,691.5 L1016.3,690.4 L1017.3,665.7 L1018.5,689.3 L1018.9,690.2 L1020.6,689.5 L1023.6,688.4 L1026.5,686.5 L1027.7,685.5 L1029.5,689.5 L1031.2,690.9 L1032.4,694.9 L1034.2,690.9 L1036.5,687.6 L1038.6,690.9 L1040.5,691.7 L1043.5,690.9 L1045.7,691.4 L1047.2,689.5 L1049.4,693.9 L1050.8,690.9 L1052.3,691.7 L1053.3,698.3 L1055.7,698.3 L1057.5,693.9 L1058.7,691.4 L1060.1,690.9 L1060.7,666.6 L1061.6,667.4 L1062.6,691.4 L1064.8,690.2 L1066.6,687.6 L1068.5,690.9 L1070.7,690.5 L1073.7,690.9 L1076.3,688.4 L1078.1,691.7 L1080.3,692.4 L1082.5,692.0 L1084.7,693.2 L1086.6,690.2 L1088.4,693.9 L1090.6,694.9 L1093.1,695.4 L1095.8,693.2 L1097.3,692.4 L1099.0,696.8 L1100.5,693.9 L1102.0,702.7 L1103.9,705.7 L1104.9,690.2 L1105.8,678.4 L1107.6,679.6 L1109.0,682.1 L1112.0,681.4 L1114.9,681.1 L1117.2,678.4 L1119.4,681.1 L1122.3,681.4 L1125.3,681.1 L1128.2,684.3 L1130.4,685.5 L1131.4,690.9 L1133.4,692.0 L1135.3,693.2 L1136.8,697.6 L1138.8,700.2 L1141.2,699.0 L1142.9,699.8 L1145.2,699.8 L1146.2,686.5 L1147.4,682.5 L1149.1,683.6 L1150.3,679.2 L1153.3,679.9 L1155.5,679.2 L1157.4,678.4 L1159.2,681.1 L1160.6,675.2 L1162.8,678.4 L1165.0,678.1 L1165.8,674.7 L1168.0,678.1 L1170.9,677.7 L1173.2,678.4 L1175.4,676.9 L1176.5,675.2 L1178.6,679.2 L1181.0,676.9 L1182.7,670.8 L1184.5,671.8 L1185.7,678.4 L1187.9,679.6 L1189.4,679.9 L1190.1,651.9 L1191.3,648.2 L1193.8,647.8 L1195.7,646.0 L1197.5,648.2 L1199.7,649.7 L1201.9,648.7 L1204.1,648.2 L1205.6,646.3 L1207.8,648.2 L1210.0,648.9 L1212.2,648.9 L1213.4,653.4 L1214.4,655.6 L1215.4,651.2 L1216.9,653.7 L1218.1,654.8 L1219.6,653.1 L1222.5,652.6 L1225.5,650.4 L1227.7,651.6 L1229.6,650.7 L1232.1,651.6 L1233.6,656.3 L1235.0,647.2 L1237.3,650.4 L1239.5,649.7 L1241.7,651.9 L1243.1,652.6 L1245.4,655.6 L1247.9,658.1 L1250.5,657.8 L1252.7,657.0 L1253.8,654.8 L1255.7,651.9 L1257.6,655.6 L1259.1,647.8 L1260.8,649.7 L1262.3,649.2 L1263.8,642.3 L1265.3,640.8 L1267.5,642.8 L1269.7,643.3 L1271.4,643.1 L1273.4,635.7 L1275.3,633.9 L1276.7,642.3 L1278.2,643.1 L1279.3,636.4 L1280.0,637.2 L1282.1,637.6 L1283.8,636.3 L1285.2,635.0 L1286.5,639.0 L1288.2,639.8 L1290.4,639.6 L1292.6,641.6 L1294.5,639.0 L1296.5,640.5 L1298.1,641.3 L1300.3,640.2 L1302.5,641.3 L1304.4,639.6 L1306.4,641.3 L1308.1,642.4 L1310.3,642.4 L1313.0,642.7 L1315.2,641.3 L1317.4,641.8 L1318.6,643.5 L1319.7,647.1 L1320.8,640.2 L1322.4,638.5 L1324.1,634.1 L1325.7,635.7 L1327.4,636.8 L1329.6,636.5 L1331.8,636.8 L1334.2,636.1 L1336.2,636.3 L1338.4,637.2 L1339.8,633.5 L1341.2,630.5 L1343.4,630.2 L1345.6,627.7 L1347.3,629.1 L1349.3,629.9 L1350.6,631.6 L1352.6,630.2 L1354.5,628.6 L1356.1,629.7 L1358.1,630.8 L1360.0,630.2 L1361.4,627.7 L1362.7,634.6 L1363.8,630.5 L1364.9,620.3 L1366.6,621.0 L1368.3,621.4 L1369.9,620.8 L1370.7,610.9 L1371.8,607.6 L1373.2,606.5 L1374.9,607.0 L1377.1,608.7 L1379.3,607.0 L1381.3,604.8 L1383.2,606.5 L1384.8,609.2 L1386.2,612.0 L1387.0,618.6 L1388.1,622.5 L1389.5,625.2 L1390.6,630.2 L1392.3,633.5 L1394.2,634.1 L1395.9,637.9 L1397.5,642.4 L1399.2,645.1 L1400.9,648.7 L1402.5,647.9 L1404.2,647.3 L1405.8,646.2 L1406.7,649.5 L1407.5,645.1 L1408.6,644.2 L1409.1,649.5 L1409.7,658.4 L1410.5,663.9 L1411.3,668.1 L1412.2,661.7 L1413.0,647.3 L1413.8,640.7 L1414.7,640.2 L1415.8,645.1 L1416.9,650.6 L1418.0,655.6 L1418.9,658.9 L1419.6,657.3 L1421.1,657.8 L1421.4,679.5 L1422.1,732.5 L1424.3,734.0 L1426.2,739.6 L1428.7,739.2 L1431.2,737.7 L1433.6,736.9 L1434.6,741.4 L1436.1,754.9 L1438.6,756.1 L1441.3,758.3 L1443.5,763.5 L1444.9,767.9 L1446.9,771.6 L1448.6,778.2 L1450.8,785.6 L1451.9,767.9 L1453.1,753.2 L1454.5,756.1 L1456.7,758.3 L1458.9,759.0 L1459.7,767.9 L1460.7,797.4 L1461.6,808.8 L1462.6,829.5 L1463.4,844.2 L1465.6,845.7 L1467.5,847.5 L1469.3,850.1 L1471.5,844.9 L1472.9,847.9 L1474.4,856.0 L1475.9,861.9 L1477.4,870.7 L1478.8,885.5 L1480.8,881.0 L1482.5,884.7 L1484.7,889.2 L1486.9,888.4 L1489.2,889.9 L1491.1,891.4 L1492.5,900.9 L1495.0,903.2 L1496.5,903.9 L1497.3,858.9 L1498.4,858.2 L1499.0,882.5 L1500.5,891.4 L1501.4,916.4 L1503.2,917.9 L1505.4,920.8 L1507.6,923.8 L1509.3,925.3 L1510.5,920.1 L1511.7,917.9 L1512.7,940.0 L1513.5,951.8 L1514.9,950.3 L1516.7,945.2 L1517.9,941.5 L1520.1,938.5 L1522.3,936.3 L1524.5,939.3 L1525.6,942.9 L1527.0,939.3 L1528.9,940.0 L1530.0,943.7 L1531.9,942.9 L1533.4,943.7 L1534.8,937.0 L1536.3,922.3 L1537.8,906.1 L1538.8,900.9 L1540.0,912.0 L1541.2,937.8 L1542.6,935.6 L1544.1,929.7 L1545.9,922.3 L1547.4,921.6 L1548.8,917.9 L1549.6,914.9 L1550.3,873.7 L1551.0,842.7 L1552.1,842.0 L1552.7,856.0 L1554.4,850.1 L1556.2,850.8 L1559.2,850.4 L1561.8,850.1 L1562.8,844.2 L1563.9,835.4 L1565.0,832.4 L1567.3,831.7 L1568.7,830.2 L1570.2,826.5 L1572.1,822.8 L1573.9,820.6 L1576.1,816.2 L1577.6,813.3 L1578.6,810.3 L1579.5,839.1 L1580.5,823.6 L1581.6,807.4 L1583.5,805.2 L1585.7,802.9 L1586.9,782.6 L1587.9,767.9 L1588.6,751.7 L1590.4,750.2 L1591.3,729.6 L1591.9,714.8 L1593.8,713.4 L1595.7,711.9 L1597.8,717.0 L1599.2,713.4 L1601.1,708.9 L1602.6,703.1 L1604.5,697.2 L1606.0,688.3 L1607.0,680.9 L1608.1,682.4 L1609.3,676.5 L1611.0,669.2 L1612.9,666.2 L1615.1,667.7 L1617.4,666.9 L1619.3,665.5 L1619.6,663.2 L1620.7,654.9 L1621.5,632.3 L1623.1,631.5 L1624.5,630.6 L1625.1,660.5 L1625.6,676.5 L1626.7,670.0 L1627.6,659.4 L1628.4,638.4 L1628.9,626.8 L1630.3,626.4 L1630.9,636.2 L1632.0,631.7 L1633.6,628.4 L1635.5,626.8 L1637.0,625.7 L1638.1,623.5 L1639.2,622.4 L1639.7,605.2 L1640.3,586.5 L1641.7,576.5 L1643.6,576.3 L1645.8,576.0 L1647.4,576.3 L1648.8,574.3 L1649.7,574.9 L1650.2,588.7 L1650.5,600.3 L1651.9,593.1 L1653.5,591.8 L1655.2,590.9 L1656.3,588.7 L1657.2,584.2 L1658.5,582.9 L1659.8,583.1 L1661.3,583.7 L1662.0,582.9 L1662.9,596.4 L1664.0,611.9 L1665.1,617.9 L1665.7,605.2 L1666.2,597.5 L1667.6,594.2 L1668.4,582.0 L1670.1,580.9 L1671.7,578.9 L1673.4,577.6 L1675.1,578.9 L1675.9,584.2 L1677.3,587.6 L1678.4,588.1 L1679.3,580.9 L1680.0,571.0 L1681.7,568.8 L1683.3,571.5 L1685.0,572.6 L1686.7,573.8 L1687.4,583.1 L1688.9,579.6 L1690.5,582.0 L1692.2,580.0 L1693.8,579.8 L1695.8,581.8 L1696.9,585.4 L1697.7,590.3 L1699.4,586.5 L1701.4,582.6 L1703.2,584.2 L1704.9,585.1 L1706.5,585.9 L1708.0,588.9 L1709.9,588.1 L1711.0,585.9 L1712.1,585.9 L1712.8,596.4 L1713.7,607.4 L1714.3,614.1 L1715.9,615.2 L1716.8,620.7 L1717.6,631.7 L1718.1,638.9 L1719.2,639.6 L1719.5,654.7 L1719.8,666.2 L1721.7,664.7 L1723.5,661.7 L1724.6,662.1 L1725.7,665.0 L1726.1,676.8 L1726.5,687.9 L1727.6,693.0 L1728.7,699.0 L1729.0,710.0 L1729.2,727.1 L1731.9,723.3 L1733.6,719.4 L1735.2,718.8 L1735.8,732.1 L1736.3,752.0 L1738.6,754.2 L1739.7,770.8 L1741.3,774.1 L1742.4,779.6 L1745.2,782.4 L1745.7,798.4 L1746.4,815.0 L1746.8,833.2 L1748.4,830.7 L1749.0,856.4 L1749.5,885.5 L1750.9,892.1 L1752.6,895.4 L1753.4,889.6 L1754.2,864.7 L1754.8,851.5 L1755.9,853.5 L1757.1,853.5 L1758.1,843.2 L1759.2,849.0 L1760.5,844.8 L1761.5,843.2 L1762.9,838.2 L1764.2,839.9 L1765.4,841.5 L1766.7,837.4 L1768.3,837.4 L1769.4,843.2 L1770.8,844.4 L1772.5,846.1 L1773.3,845.3 L1775.0,846.5 L1775.8,864.7 L1776.6,880.9 L1777.4,873.0 L1778.3,852.3 L1779.5,851.5 L1781.2,850.2 L1782.0,849.8 L1783,849.8 L1783,655.1 Z" fill="#7fcd6b"/></g>
<g clip-path="url(#cneg)" opacity="0.6"><path d="M111.8,655.1 L112.6,189.0 L113.2,232.0 L113.8,300.0 L114.2,340.0 L114.7,420.0 L115.0,500.0 L115.3,526.5 L116.5,544.2 L118.9,558.9 L120.3,576.6 L121.4,610.0 L121.8,623.8 L122.4,624.5 L123.6,605.4 L124.8,605.8 L125.3,609.8 L128.7,612.0 L129.9,633.4 L131.7,626.7 L132.7,626.4 L134.2,634.1 L136.1,627.0 L137.1,626.4 L138.3,634.8 L139.1,628.2 L140.5,635.6 L142.7,629.7 L143.9,628.9 L145.7,633.4 L148.6,634.4 L149.8,628.2 L150.8,637.8 L152.3,633.4 L153.3,638.5 L154.8,621.6 L156.7,627.5 L158.2,630.4 L160.1,628.9 L160.7,631.9 L161.9,627.5 L163.7,627.5 L165.6,628.9 L169.3,629.7 L173.7,630.7 L176.6,632.6 L179.6,635.9 L182.5,635.6 L185.5,635.6 L188.4,637.5 L191.4,636.3 L193.6,634.1 L195.0,636.3 L196.5,639.3 L198.0,639.3 L198.7,628.9 L200.9,630.4 L202.4,629.7 L203.9,631.9 L206.1,632.6 L209.0,627.9 L210.5,632.6 L213.5,631.2 L216.4,631.6 L218.6,630.4 L220.1,632.6 L223.8,633.4 L226.0,631.9 L229.7,633.8 L232.6,631.9 L233.4,635.6 L234.1,631.9 L237.0,632.2 L238.5,633.4 L240.7,641.5 L241.8,642.6 L243.7,634.1 L245.9,633.4 L248.1,627.0 L250.3,630.4 L252.5,633.1 L254.7,630.4 L257.4,627.0 L259.9,631.9 L261.4,634.8 L262.8,630.4 L264.3,631.2 L265.8,629.4 L267.3,629.4 L268.7,626.0 L270.6,630.4 L272.4,628.5 L274.3,626.4 L276.8,630.4 L279.0,634.1 L281.3,634.4 L282.7,636.8 L285.4,621.6 L286.9,623.0 L288.6,622.6 L290.4,629.7 L292.3,629.7 L294.5,626.4 L296.7,626.3 L298.9,626.7 L301.1,625.0 L303.4,625.6 L306.3,624.5 L309.3,622.0 L310.7,622.3 L312.2,623.5 L314.4,622.0 L316.6,621.6 L319.6,622.0 L321.0,622.6 L324.0,619.7 L325.5,619.7 L326.2,628.9 L328.4,625.3 L330.6,618.6 L332.5,620.1 L333.6,618.3 L335.8,621.6 L338.0,620.1 L340.2,626.7 L342.4,629.7 L344.6,629.4 L348.3,635.6 L350.5,636.8 L352.7,637.8 L354.2,637.8 L356.4,636.8 L357.9,639.3 L359.4,641.5 L360.5,636.3 L362.0,643.7 L363.8,642.6 L366.0,640.4 L368.2,641.5 L370.4,645.2 L372.6,641.9 L374.8,642.6 L376.3,644.4 L378.2,643.2 L379.1,643.7 L379.7,541.5 L381.0,541.0 L382.5,543.8 L384.9,543.0 L387.2,541.0 L389.1,537.6 L390.3,543.0 L393.5,544.6 L395.8,547.7 L397.4,545.4 L399.7,546.6 L402.1,546.9 L403.6,545.4 L405.7,537.6 L408.3,541.0 L410.7,542.6 L412.3,546.9 L413.5,554.8 L415.7,553.2 L416.9,544.6 L418.5,542.6 L420.4,542.3 L421.6,545.1 L424.0,545.1 L427.1,542.3 L428.7,546.6 L431.3,543.8 L433.4,545.4 L434.9,544.3 L437.3,545.4 L439.6,543.0 L441.7,546.9 L443.6,547.3 L445.9,546.2 L448.2,547.7 L450.6,549.3 L452.9,548.8 L455.3,546.9 L456.9,552.4 L458.4,554.0 L459.5,548.5 L461.5,550.9 L464.7,549.8 L466.2,545.4 L468.6,542.3 L470.9,541.5 L473.3,538.3 L474.9,533.6 L476.4,533.2 L478.8,532.1 L481.1,533.2 L483.5,533.6 L485.8,529.0 L487.1,528.2 L488.2,529.4 L489.7,526.6 L491.3,529.7 L493.9,529.0 L496.4,522.7 L498.3,524.7 L500.7,525.8 L503.0,527.4 L504.9,525.8 L507.2,523.5 L508.0,562.6 L508.3,625.7 L509.6,627.2 L511.8,627.5 L514.0,626.9 L516.2,622.0 L518.4,620.1 L521.4,619.8 L524.3,619.1 L526.5,617.6 L528.7,619.8 L530.2,622.7 L532.1,619.1 L534.2,619.5 L536.5,618.0 L538.6,622.0 L540.1,623.5 L542.0,619.5 L543.3,614.2 L544.9,618.6 L547.2,619.8 L550.8,621.3 L555.3,623.0 L557.5,622.0 L558.9,622.7 L561.2,621.3 L563.4,622.0 L565.6,622.7 L568.5,620.1 L570.7,619.8 L572.9,620.1 L575.2,619.5 L577.4,618.6 L579.6,618.0 L581.8,619.8 L583.7,621.0 L584.7,618.3 L585.8,610.7 L587.2,613.2 L589.9,615.1 L592.1,615.4 L594.3,615.1 L596.5,614.6 L599.0,613.9 L601.7,616.1 L604.6,614.6 L606.1,616.5 L608.3,618.0 L610.5,617.6 L613.5,619.1 L616.4,617.6 L619.4,617.1 L621.6,619.1 L623.8,619.5 L626.0,619.1 L627.0,625.7 L628.2,623.5 L629.7,615.4 L631.9,616.1 L634.8,616.1 L637.8,615.4 L640.0,616.1 L642.2,618.0 L644.4,620.5 L647.4,621.0 L649.6,620.1 L651.8,619.8 L654.7,621.0 L656.9,618.3 L658.9,617.6 L660.6,621.3 L662.1,621.0 L664.3,617.6 L666.5,614.6 L668.7,615.1 L670.6,617.6 L671.7,624.2 L672.7,643.4 L674.6,641.2 L676.8,640.7 L679.5,640.1 L682.0,643.1 L683.9,640.7 L686.4,640.4 L689.4,639.7 L691.3,641.2 L693.0,639.7 L695.3,640.1 L697.5,641.9 L699.7,644.8 L701.9,645.6 L704.1,644.1 L706.3,644.1 L708.5,642.6 L710.7,642.6 L712.9,645.6 L714.0,649.3 L714.9,644.8 L715.7,645.1 L716.0,674.3 L718.1,673.1 L721.0,672.8 L723.3,672.1 L725.5,672.5 L727.7,671.1 L729.1,670.6 L730.6,672.5 L732.5,674.0 L734.3,670.2 L737.3,668.1 L739.5,668.4 L742.4,669.2 L744.6,668.9 L746.8,669.9 L749.0,668.4 L748.8,669.4 L751.8,671.9 L753.6,668.6 L755.9,671.3 L757.7,676.7 L759.2,677.5 L760.3,695.9 L762.1,696.3 L765.1,694.9 L768.7,692.9 L770.9,694.4 L773.2,692.9 L776.8,692.9 L779.1,694.9 L781.6,696.3 L783.5,694.4 L785.7,693.7 L788.6,694.4 L791.3,696.6 L793.3,694.9 L795.7,695.9 L798.2,693.7 L799.2,693.4 L800.4,673.8 L801.9,676.0 L803.1,695.9 L804.8,695.9 L806.6,693.7 L808.5,692.2 L811.0,695.2 L812.9,693.7 L815.2,693.4 L817.4,693.7 L818.4,691.5 L819.9,696.6 L821.8,696.3 L824.0,692.9 L826.2,690.4 L827.2,688.5 L829.2,690.7 L831.1,692.9 L833.1,691.0 L835.8,691.5 L838.4,690.4 L840.2,692.9 L842.4,697.4 L843.4,689.3 L844.6,670.1 L846.1,669.8 L847.3,692.2 L849.0,693.7 L850.8,695.9 L853.5,694.9 L856.4,693.7 L858.6,692.2 L860.8,696.6 L863.0,694.4 L866.0,692.2 L868.2,689.0 L870.0,691.5 L871.9,689.6 L874.1,689.0 L875.9,691.5 L877.8,690.0 L880.7,693.4 L882.6,691.5 L885.2,691.9 L887.4,690.7 L888.1,673.3 L889.1,700.3 L891.0,700.3 L894.0,698.8 L896.2,698.1 L898.4,697.4 L900.6,701.0 L902.8,698.8 L906.5,698.1 L910.2,701.0 L912.4,698.8 L914.6,700.3 L916.8,698.1 L918.6,697.4 L920.5,701.0 L922.7,698.8 L925.7,699.6 L929.4,700.3 L930.4,681.9 L931.6,679.7 L932.7,705.5 L934.5,706.2 L937.2,704.7 L939.7,708.4 L942.6,707.7 L944.8,707.7 L947.5,705.2 L950.0,709.2 L952.2,707.7 L954.4,707.7 L956.6,704.7 L958.1,706.2 L960.3,708.4 L962.5,705.8 L964.3,705.2 L966.2,705.8 L968.1,704.0 L970.2,706.9 L972.1,705.5 L973.6,707.2 L974.6,676.7 L976.1,673.8 L977.3,693.7 L979.5,695.2 L981.7,694.9 L984.6,694.4 L987.6,692.9 L989.8,695.2 L992.0,694.4 L994.2,695.4 L997.1,693.7 L999.7,697.4 L1001.6,696.3 L1004.5,693.7 L1007.0,691.5 L1009.7,692.9 L1011.9,691.9 L1014.1,691.5 L1016.3,690.4 L1017.3,665.7 L1018.5,689.3 L1018.9,690.2 L1020.6,689.5 L1023.6,688.4 L1026.5,686.5 L1027.7,685.5 L1029.5,689.5 L1031.2,690.9 L1032.4,694.9 L1034.2,690.9 L1036.5,687.6 L1038.6,690.9 L1040.5,691.7 L1043.5,690.9 L1045.7,691.4 L1047.2,689.5 L1049.4,693.9 L1050.8,690.9 L1052.3,691.7 L1053.3,698.3 L1055.7,698.3 L1057.5,693.9 L1058.7,691.4 L1060.1,690.9 L1060.7,666.6 L1061.6,667.4 L1062.6,691.4 L1064.8,690.2 L1066.6,687.6 L1068.5,690.9 L1070.7,690.5 L1073.7,690.9 L1076.3,688.4 L1078.1,691.7 L1080.3,692.4 L1082.5,692.0 L1084.7,693.2 L1086.6,690.2 L1088.4,693.9 L1090.6,694.9 L1093.1,695.4 L1095.8,693.2 L1097.3,692.4 L1099.0,696.8 L1100.5,693.9 L1102.0,702.7 L1103.9,705.7 L1104.9,690.2 L1105.8,678.4 L1107.6,679.6 L1109.0,682.1 L1112.0,681.4 L1114.9,681.1 L1117.2,678.4 L1119.4,681.1 L1122.3,681.4 L1125.3,681.1 L1128.2,684.3 L1130.4,685.5 L1131.4,690.9 L1133.4,692.0 L1135.3,693.2 L1136.8,697.6 L1138.8,700.2 L1141.2,699.0 L1142.9,699.8 L1145.2,699.8 L1146.2,686.5 L1147.4,682.5 L1149.1,683.6 L1150.3,679.2 L1153.3,679.9 L1155.5,679.2 L1157.4,678.4 L1159.2,681.1 L1160.6,675.2 L1162.8,678.4 L1165.0,678.1 L1165.8,674.7 L1168.0,678.1 L1170.9,677.7 L1173.2,678.4 L1175.4,676.9 L1176.5,675.2 L1178.6,679.2 L1181.0,676.9 L1182.7,670.8 L1184.5,671.8 L1185.7,678.4 L1187.9,679.6 L1189.4,679.9 L1190.1,651.9 L1191.3,648.2 L1193.8,647.8 L1195.7,646.0 L1197.5,648.2 L1199.7,649.7 L1201.9,648.7 L1204.1,648.2 L1205.6,646.3 L1207.8,648.2 L1210.0,648.9 L1212.2,648.9 L1213.4,653.4 L1214.4,655.6 L1215.4,651.2 L1216.9,653.7 L1218.1,654.8 L1219.6,653.1 L1222.5,652.6 L1225.5,650.4 L1227.7,651.6 L1229.6,650.7 L1232.1,651.6 L1233.6,656.3 L1235.0,647.2 L1237.3,650.4 L1239.5,649.7 L1241.7,651.9 L1243.1,652.6 L1245.4,655.6 L1247.9,658.1 L1250.5,657.8 L1252.7,657.0 L1253.8,654.8 L1255.7,651.9 L1257.6,655.6 L1259.1,647.8 L1260.8,649.7 L1262.3,649.2 L1263.8,642.3 L1265.3,640.8 L1267.5,642.8 L1269.7,643.3 L1271.4,643.1 L1273.4,635.7 L1275.3,633.9 L1276.7,642.3 L1278.2,643.1 L1279.3,636.4 L1280.0,637.2 L1282.1,637.6 L1283.8,636.3 L1285.2,635.0 L1286.5,639.0 L1288.2,639.8 L1290.4,639.6 L1292.6,641.6 L1294.5,639.0 L1296.5,640.5 L1298.1,641.3 L1300.3,640.2 L1302.5,641.3 L1304.4,639.6 L1306.4,641.3 L1308.1,642.4 L1310.3,642.4 L1313.0,642.7 L1315.2,641.3 L1317.4,641.8 L1318.6,643.5 L1319.7,647.1 L1320.8,640.2 L1322.4,638.5 L1324.1,634.1 L1325.7,635.7 L1327.4,636.8 L1329.6,636.5 L1331.8,636.8 L1334.2,636.1 L1336.2,636.3 L1338.4,637.2 L1339.8,633.5 L1341.2,630.5 L1343.4,630.2 L1345.6,627.7 L1347.3,629.1 L1349.3,629.9 L1350.6,631.6 L1352.6,630.2 L1354.5,628.6 L1356.1,629.7 L1358.1,630.8 L1360.0,630.2 L1361.4,627.7 L1362.7,634.6 L1363.8,630.5 L1364.9,620.3 L1366.6,621.0 L1368.3,621.4 L1369.9,620.8 L1370.7,610.9 L1371.8,607.6 L1373.2,606.5 L1374.9,607.0 L1377.1,608.7 L1379.3,607.0 L1381.3,604.8 L1383.2,606.5 L1384.8,609.2 L1386.2,612.0 L1387.0,618.6 L1388.1,622.5 L1389.5,625.2 L1390.6,630.2 L1392.3,633.5 L1394.2,634.1 L1395.9,637.9 L1397.5,642.4 L1399.2,645.1 L1400.9,648.7 L1402.5,647.9 L1404.2,647.3 L1405.8,646.2 L1406.7,649.5 L1407.5,645.1 L1408.6,644.2 L1409.1,649.5 L1409.7,658.4 L1410.5,663.9 L1411.3,668.1 L1412.2,661.7 L1413.0,647.3 L1413.8,640.7 L1414.7,640.2 L1415.8,645.1 L1416.9,650.6 L1418.0,655.6 L1418.9,658.9 L1419.6,657.3 L1421.1,657.8 L1421.4,679.5 L1422.1,732.5 L1424.3,734.0 L1426.2,739.6 L1428.7,739.2 L1431.2,737.7 L1433.6,736.9 L1434.6,741.4 L1436.1,754.9 L1438.6,756.1 L1441.3,758.3 L1443.5,763.5 L1444.9,767.9 L1446.9,771.6 L1448.6,778.2 L1450.8,785.6 L1451.9,767.9 L1453.1,753.2 L1454.5,756.1 L1456.7,758.3 L1458.9,759.0 L1459.7,767.9 L1460.7,797.4 L1461.6,808.8 L1462.6,829.5 L1463.4,844.2 L1465.6,845.7 L1467.5,847.5 L1469.3,850.1 L1471.5,844.9 L1472.9,847.9 L1474.4,856.0 L1475.9,861.9 L1477.4,870.7 L1478.8,885.5 L1480.8,881.0 L1482.5,884.7 L1484.7,889.2 L1486.9,888.4 L1489.2,889.9 L1491.1,891.4 L1492.5,900.9 L1495.0,903.2 L1496.5,903.9 L1497.3,858.9 L1498.4,858.2 L1499.0,882.5 L1500.5,891.4 L1501.4,916.4 L1503.2,917.9 L1505.4,920.8 L1507.6,923.8 L1509.3,925.3 L1510.5,920.1 L1511.7,917.9 L1512.7,940.0 L1513.5,951.8 L1514.9,950.3 L1516.7,945.2 L1517.9,941.5 L1520.1,938.5 L1522.3,936.3 L1524.5,939.3 L1525.6,942.9 L1527.0,939.3 L1528.9,940.0 L1530.0,943.7 L1531.9,942.9 L1533.4,943.7 L1534.8,937.0 L1536.3,922.3 L1537.8,906.1 L1538.8,900.9 L1540.0,912.0 L1541.2,937.8 L1542.6,935.6 L1544.1,929.7 L1545.9,922.3 L1547.4,921.6 L1548.8,917.9 L1549.6,914.9 L1550.3,873.7 L1551.0,842.7 L1552.1,842.0 L1552.7,856.0 L1554.4,850.1 L1556.2,850.8 L1559.2,850.4 L1561.8,850.1 L1562.8,844.2 L1563.9,835.4 L1565.0,832.4 L1567.3,831.7 L1568.7,830.2 L1570.2,826.5 L1572.1,822.8 L1573.9,820.6 L1576.1,816.2 L1577.6,813.3 L1578.6,810.3 L1579.5,839.1 L1580.5,823.6 L1581.6,807.4 L1583.5,805.2 L1585.7,802.9 L1586.9,782.6 L1587.9,767.9 L1588.6,751.7 L1590.4,750.2 L1591.3,729.6 L1591.9,714.8 L1593.8,713.4 L1595.7,711.9 L1597.8,717.0 L1599.2,713.4 L1601.1,708.9 L1602.6,703.1 L1604.5,697.2 L1606.0,688.3 L1607.0,680.9 L1608.1,682.4 L1609.3,676.5 L1611.0,669.2 L1612.9,666.2 L1615.1,667.7 L1617.4,666.9 L1619.3,665.5 L1619.6,663.2 L1620.7,654.9 L1621.5,632.3 L1623.1,631.5 L1624.5,630.6 L1625.1,660.5 L1625.6,676.5 L1626.7,670.0 L1627.6,659.4 L1628.4,638.4 L1628.9,626.8 L1630.3,626.4 L1630.9,636.2 L1632.0,631.7 L1633.6,628.4 L1635.5,626.8 L1637.0,625.7 L1638.1,623.5 L1639.2,622.4 L1639.7,605.2 L1640.3,586.5 L1641.7,576.5 L1643.6,576.3 L1645.8,576.0 L1647.4,576.3 L1648.8,574.3 L1649.7,574.9 L1650.2,588.7 L1650.5,600.3 L1651.9,593.1 L1653.5,591.8 L1655.2,590.9 L1656.3,588.7 L1657.2,584.2 L1658.5,582.9 L1659.8,583.1 L1661.3,583.7 L1662.0,582.9 L1662.9,596.4 L1664.0,611.9 L1665.1,617.9 L1665.7,605.2 L1666.2,597.5 L1667.6,594.2 L1668.4,582.0 L1670.1,580.9 L1671.7,578.9 L1673.4,577.6 L1675.1,578.9 L1675.9,584.2 L1677.3,587.6 L1678.4,588.1 L1679.3,580.9 L1680.0,571.0 L1681.7,568.8 L1683.3,571.5 L1685.0,572.6 L1686.7,573.8 L1687.4,583.1 L1688.9,579.6 L1690.5,582.0 L1692.2,580.0 L1693.8,579.8 L1695.8,581.8 L1696.9,585.4 L1697.7,590.3 L1699.4,586.5 L1701.4,582.6 L1703.2,584.2 L1704.9,585.1 L1706.5,585.9 L1708.0,588.9 L1709.9,588.1 L1711.0,585.9 L1712.1,585.9 L1712.8,596.4 L1713.7,607.4 L1714.3,614.1 L1715.9,615.2 L1716.8,620.7 L1717.6,631.7 L1718.1,638.9 L1719.2,639.6 L1719.5,654.7 L1719.8,666.2 L1721.7,664.7 L1723.5,661.7 L1724.6,662.1 L1725.7,665.0 L1726.1,676.8 L1726.5,687.9 L1727.6,693.0 L1728.7,699.0 L1729.0,710.0 L1729.2,727.1 L1731.9,723.3 L1733.6,719.4 L1735.2,718.8 L1735.8,732.1 L1736.3,752.0 L1738.6,754.2 L1739.7,770.8 L1741.3,774.1 L1742.4,779.6 L1745.2,782.4 L1745.7,798.4 L1746.4,815.0 L1746.8,833.2 L1748.4,830.7 L1749.0,856.4 L1749.5,885.5 L1750.9,892.1 L1752.6,895.4 L1753.4,889.6 L1754.2,864.7 L1754.8,851.5 L1755.9,853.5 L1757.1,853.5 L1758.1,843.2 L1759.2,849.0 L1760.5,844.8 L1761.5,843.2 L1762.9,838.2 L1764.2,839.9 L1765.4,841.5 L1766.7,837.4 L1768.3,837.4 L1769.4,843.2 L1770.8,844.4 L1772.5,846.1 L1773.3,845.3 L1775.0,846.5 L1775.8,864.7 L1776.6,880.9 L1777.4,873.0 L1778.3,852.3 L1779.5,851.5 L1781.2,850.2 L1782.0,849.8 L1783,849.8 L1783,655.1 Z" fill="#ed756b"/><path d="M112.6,189.0 L113.2,232.0 L113.8,300.0 L114.2,340.0 L114.7,420.0 L115.0,500.0 L115.3,526.5 L116.5,544.2 L118.9,558.9 L120.3,576.6 L121.4,610.0 L121.8,623.8 L122.4,624.5 L123.6,605.4 L124.8,605.8 L125.3,609.8 L128.7,612.0 L129.9,633.4 L131.7,626.7 L132.7,626.4 L134.2,634.1 L136.1,627.0 L137.1,626.4 L138.3,634.8 L139.1,628.2 L140.5,635.6 L142.7,629.7 L143.9,628.9 L145.7,633.4 L148.6,634.4 L149.8,628.2 L150.8,637.8 L152.3,633.4 L153.3,638.5 L154.8,621.6 L156.7,627.5 L158.2,630.4 L160.1,628.9 L160.7,631.9 L161.9,627.5 L163.7,627.5 L165.6,628.9 L169.3,629.7 L173.7,630.7 L176.6,632.6 L179.6,635.9 L182.5,635.6 L185.5,635.6 L188.4,637.5 L191.4,636.3 L193.6,634.1 L195.0,636.3 L196.5,639.3 L198.0,639.3 L198.7,628.9 L200.9,630.4 L202.4,629.7 L203.9,631.9 L206.1,632.6 L209.0,627.9 L210.5,632.6 L213.5,631.2 L216.4,631.6 L218.6,630.4 L220.1,632.6 L223.8,633.4 L226.0,631.9 L229.7,633.8 L232.6,631.9 L233.4,635.6 L234.1,631.9 L237.0,632.2 L238.5,633.4 L240.7,641.5 L241.8,642.6 L243.7,634.1 L245.9,633.4 L248.1,627.0 L250.3,630.4 L252.5,633.1 L254.7,630.4 L257.4,627.0 L259.9,631.9 L261.4,634.8 L262.8,630.4 L264.3,631.2 L265.8,629.4 L267.3,629.4 L268.7,626.0 L270.6,630.4 L272.4,628.5 L274.3,626.4 L276.8,630.4 L279.0,634.1 L281.3,634.4 L282.7,636.8 L285.4,621.6 L286.9,623.0 L288.6,622.6 L290.4,629.7 L292.3,629.7 L294.5,626.4 L296.7,626.3 L298.9,626.7 L301.1,625.0 L303.4,625.6 L306.3,624.5 L309.3,622.0 L310.7,622.3 L312.2,623.5 L314.4,622.0 L316.6,621.6 L319.6,622.0 L321.0,622.6 L324.0,619.7 L325.5,619.7 L326.2,628.9 L328.4,625.3 L330.6,618.6 L332.5,620.1 L333.6,618.3 L335.8,621.6 L338.0,620.1 L340.2,626.7 L342.4,629.7 L344.6,629.4 L348.3,635.6 L350.5,636.8 L352.7,637.8 L354.2,637.8 L356.4,636.8 L357.9,639.3 L359.4,641.5 L360.5,636.3 L362.0,643.7 L363.8,642.6 L366.0,640.4 L368.2,641.5 L370.4,645.2 L372.6,641.9 L374.8,642.6 L376.3,644.4 L378.2,643.2 L379.1,643.7 L379.7,541.5 L381.0,541.0 L382.5,543.8 L384.9,543.0 L387.2,541.0 L389.1,537.6 L390.3,543.0 L393.5,544.6 L395.8,547.7 L397.4,545.4 L399.7,546.6 L402.1,546.9 L403.6,545.4 L405.7,537.6 L408.3,541.0 L410.7,542.6 L412.3,546.9 L413.5,554.8 L415.7,553.2 L416.9,544.6 L418.5,542.6 L420.4,542.3 L421.6,545.1 L424.0,545.1 L427.1,542.3 L428.7,546.6 L431.3,543.8 L433.4,545.4 L434.9,544.3 L437.3,545.4 L439.6,543.0 L441.7,546.9 L443.6,547.3 L445.9,546.2 L448.2,547.7 L450.6,549.3 L452.9,548.8 L455.3,546.9 L456.9,552.4 L458.4,554.0 L459.5,548.5 L461.5,550.9 L464.7,549.8 L466.2,545.4 L468.6,542.3 L470.9,541.5 L473.3,538.3 L474.9,533.6 L476.4,533.2 L478.8,532.1 L481.1,533.2 L483.5,533.6 L485.8,529.0 L487.1,528.2 L488.2,529.4 L489.7,526.6 L491.3,529.7 L493.9,529.0 L496.4,522.7 L498.3,524.7 L500.7,525.8 L503.0,527.4 L504.9,525.8 L507.2,523.5 L508.0,562.6 L508.3,625.7 L509.6,627.2 L511.8,627.5 L514.0,626.9 L516.2,622.0 L518.4,620.1 L521.4,619.8 L524.3,619.1 L526.5,617.6 L528.7,619.8 L530.2,622.7 L532.1,619.1 L534.2,619.5 L536.5,618.0 L538.6,622.0 L540.1,623.5 L542.0,619.5 L543.3,614.2 L544.9,618.6 L547.2,619.8 L550.8,621.3 L555.3,623.0 L557.5,622.0 L558.9,622.7 L561.2,621.3 L563.4,622.0 L565.6,622.7 L568.5,620.1 L570.7,619.8 L572.9,620.1 L575.2,619.5 L577.4,618.6 L579.6,618.0 L581.8,619.8 L583.7,621.0 L584.7,618.3 L585.8,610.7 L587.2,613.2 L589.9,615.1 L592.1,615.4 L594.3,615.1 L596.5,614.6 L599.0,613.9 L601.7,616.1 L604.6,614.6 L606.1,616.5 L608.3,618.0 L610.5,617.6 L613.5,619.1 L616.4,617.6 L619.4,617.1 L621.6,619.1 L623.8,619.5 L626.0,619.1 L627.0,625.7 L628.2,623.5 L629.7,615.4 L631.9,616.1 L634.8,616.1 L637.8,615.4 L640.0,616.1 L642.2,618.0 L644.4,620.5 L647.4,621.0 L649.6,620.1 L651.8,619.8 L654.7,621.0 L656.9,618.3 L658.9,617.6 L660.6,621.3 L662.1,621.0 L664.3,617.6 L666.5,614.6 L668.7,615.1 L670.6,617.6 L671.7,624.2 L672.7,643.4 L674.6,641.2 L676.8,640.7 L679.5,640.1 L682.0,643.1 L683.9,640.7 L686.4,640.4 L689.4,639.7 L691.3,641.2 L693.0,639.7 L695.3,640.1 L697.5,641.9 L699.7,644.8 L701.9,645.6 L704.1,644.1 L706.3,644.1 L708.5,642.6 L710.7,642.6 L712.9,645.6 L714.0,649.3 L714.9,644.8 L715.7,645.1 L716.0,674.3 L718.1,673.1 L721.0,672.8 L723.3,672.1 L725.5,672.5 L727.7,671.1 L729.1,670.6 L730.6,672.5 L732.5,674.0 L734.3,670.2 L737.3,668.1 L739.5,668.4 L742.4,669.2 L744.6,668.9 L746.8,669.9 L749.0,668.4 L748.8,669.4 L751.8,671.9 L753.6,668.6 L755.9,671.3 L757.7,676.7 L759.2,677.5 L760.3,695.9 L762.1,696.3 L765.1,694.9 L768.7,692.9 L770.9,694.4 L773.2,692.9 L776.8,692.9 L779.1,694.9 L781.6,696.3 L783.5,694.4 L785.7,693.7 L788.6,694.4 L791.3,696.6 L793.3,694.9 L795.7,695.9 L798.2,693.7 L799.2,693.4 L800.4,673.8 L801.9,676.0 L803.1,695.9 L804.8,695.9 L806.6,693.7 L808.5,692.2 L811.0,695.2 L812.9,693.7 L815.2,693.4 L817.4,693.7 L818.4,691.5 L819.9,696.6 L821.8,696.3 L824.0,692.9 L826.2,690.4 L827.2,688.5 L829.2,690.7 L831.1,692.9 L833.1,691.0 L835.8,691.5 L838.4,690.4 L840.2,692.9 L842.4,697.4 L843.4,689.3 L844.6,670.1 L846.1,669.8 L847.3,692.2 L849.0,693.7 L850.8,695.9 L853.5,694.9 L856.4,693.7 L858.6,692.2 L860.8,696.6 L863.0,694.4 L866.0,692.2 L868.2,689.0 L870.0,691.5 L871.9,689.6 L874.1,689.0 L875.9,691.5 L877.8,690.0 L880.7,693.4 L882.6,691.5 L885.2,691.9 L887.4,690.7 L888.1,673.3 L889.1,700.3 L891.0,700.3 L894.0,698.8 L896.2,698.1 L898.4,697.4 L900.6,701.0 L902.8,698.8 L906.5,698.1 L910.2,701.0 L912.4,698.8 L914.6,700.3 L916.8,698.1 L918.6,697.4 L920.5,701.0 L922.7,698.8 L925.7,699.6 L929.4,700.3 L930.4,681.9 L931.6,679.7 L932.7,705.5 L934.5,706.2 L937.2,704.7 L939.7,708.4 L942.6,707.7 L944.8,707.7 L947.5,705.2 L950.0,709.2 L952.2,707.7 L954.4,707.7 L956.6,704.7 L958.1,706.2 L960.3,708.4 L962.5,705.8 L964.3,705.2 L966.2,705.8 L968.1,704.0 L970.2,706.9 L972.1,705.5 L973.6,707.2 L974.6,676.7 L976.1,673.8 L977.3,693.7 L979.5,695.2 L981.7,694.9 L984.6,694.4 L987.6,692.9 L989.8,695.2 L992.0,694.4 L994.2,695.4 L997.1,693.7 L999.7,697.4 L1001.6,696.3 L1004.5,693.7 L1007.0,691.5 L1009.7,692.9 L1011.9,691.9 L1014.1,691.5 L1016.3,690.4 L1017.3,665.7 L1018.5,689.3 L1018.9,690.2 L1020.6,689.5 L1023.6,688.4 L1026.5,686.5 L1027.7,685.5 L1029.5,689.5 L1031.2,690.9 L1032.4,694.9 L1034.2,690.9 L1036.5,687.6 L1038.6,690.9 L1040.5,691.7 L1043.5,690.9 L1045.7,691.4 L1047.2,689.5 L1049.4,693.9 L1050.8,690.9 L1052.3,691.7 L1053.3,698.3 L1055.7,698.3 L1057.5,693.9 L1058.7,691.4 L1060.1,690.9 L1060.7,666.6 L1061.6,667.4 L1062.6,691.4 L1064.8,690.2 L1066.6,687.6 L1068.5,690.9 L1070.7,690.5 L1073.7,690.9 L1076.3,688.4 L1078.1,691.7 L1080.3,692.4 L1082.5,692.0 L1084.7,693.2 L1086.6,690.2 L1088.4,693.9 L1090.6,694.9 L1093.1,695.4 L1095.8,693.2 L1097.3,692.4 L1099.0,696.8 L1100.5,693.9 L1102.0,702.7 L1103.9,705.7 L1104.9,690.2 L1105.8,678.4 L1107.6,679.6 L1109.0,682.1 L1112.0,681.4 L1114.9,681.1 L1117.2,678.4 L1119.4,681.1 L1122.3,681.4 L1125.3,681.1 L1128.2,684.3 L1130.4,685.5 L1131.4,690.9 L1133.4,692.0 L1135.3,693.2 L1136.8,697.6 L1138.8,700.2 L1141.2,699.0 L1142.9,699.8 L1145.2,699.8 L1146.2,686.5 L1147.4,682.5 L1149.1,683.6 L1150.3,679.2 L1153.3,679.9 L1155.5,679.2 L1157.4,678.4 L1159.2,681.1 L1160.6,675.2 L1162.8,678.4 L1165.0,678.1 L1165.8,674.7 L1168.0,678.1 L1170.9,677.7 L1173.2,678.4 L1175.4,676.9 L1176.5,675.2 L1178.6,679.2 L1181.0,676.9 L1182.7,670.8 L1184.5,671.8 L1185.7,678.4 L1187.9,679.6 L1189.4,679.9 L1190.1,651.9 L1191.3,648.2 L1193.8,647.8 L1195.7,646.0 L1197.5,648.2 L1199.7,649.7 L1201.9,648.7 L1204.1,648.2 L1205.6,646.3 L1207.8,648.2 L1210.0,648.9 L1212.2,648.9 L1213.4,653.4 L1214.4,655.6 L1215.4,651.2 L1216.9,653.7 L1218.1,654.8 L1219.6,653.1 L1222.5,652.6 L1225.5,650.4 L1227.7,651.6 L1229.6,650.7 L1232.1,651.6 L1233.6,656.3 L1235.0,647.2 L1237.3,650.4 L1239.5,649.7 L1241.7,651.9 L1243.1,652.6 L1245.4,655.6 L1247.9,658.1 L1250.5,657.8 L1252.7,657.0 L1253.8,654.8 L1255.7,651.9 L1257.6,655.6 L1259.1,647.8 L1260.8,649.7 L1262.3,649.2 L1263.8,642.3 L1265.3,640.8 L1267.5,642.8 L1269.7,643.3 L1271.4,643.1 L1273.4,635.7 L1275.3,633.9 L1276.7,642.3 L1278.2,643.1 L1279.3,636.4 L1280.0,637.2 L1282.1,637.6 L1283.8,636.3 L1285.2,635.0 L1286.5,639.0 L1288.2,639.8 L1290.4,639.6 L1292.6,641.6 L1294.5,639.0 L1296.5,640.5 L1298.1,641.3 L1300.3,640.2 L1302.5,641.3 L1304.4,639.6 L1306.4,641.3 L1308.1,642.4 L1310.3,642.4 L1313.0,642.7 L1315.2,641.3 L1317.4,641.8 L1318.6,643.5 L1319.7,647.1 L1320.8,640.2 L1322.4,638.5 L1324.1,634.1 L1325.7,635.7 L1327.4,636.8 L1329.6,636.5 L1331.8,636.8 L1334.2,636.1 L1336.2,636.3 L1338.4,637.2 L1339.8,633.5 L1341.2,630.5 L1343.4,630.2 L1345.6,627.7 L1347.3,629.1 L1349.3,629.9 L1350.6,631.6 L1352.6,630.2 L1354.5,628.6 L1356.1,629.7 L1358.1,630.8 L1360.0,630.2 L1361.4,627.7 L1362.7,634.6 L1363.8,630.5 L1364.9,620.3 L1366.6,621.0 L1368.3,621.4 L1369.9,620.8 L1370.7,610.9 L1371.8,607.6 L1373.2,606.5 L1374.9,607.0 L1377.1,608.7 L1379.3,607.0 L1381.3,604.8 L1383.2,606.5 L1384.8,609.2 L1386.2,612.0 L1387.0,618.6 L1388.1,622.5 L1389.5,625.2 L1390.6,630.2 L1392.3,633.5 L1394.2,634.1 L1395.9,637.9 L1397.5,642.4 L1399.2,645.1 L1400.9,648.7 L1402.5,647.9 L1404.2,647.3 L1405.8,646.2 L1406.7,649.5 L1407.5,645.1 L1408.6,644.2 L1409.1,649.5 L1409.7,658.4 L1410.5,663.9 L1411.3,668.1 L1412.2,661.7 L1413.0,647.3 L1413.8,640.7 L1414.7,640.2 L1415.8,645.1 L1416.9,650.6 L1418.0,655.6 L1418.9,658.9 L1419.6,657.3 L1421.1,657.8 L1421.4,679.5 L1422.1,732.5 L1424.3,734.0 L1426.2,739.6 L1428.7,739.2 L1431.2,737.7 L1433.6,736.9 L1434.6,741.4 L1436.1,754.9 L1438.6,756.1 L1441.3,758.3 L1443.5,763.5 L1444.9,767.9 L1446.9,771.6 L1448.6,778.2 L1450.8,785.6 L1451.9,767.9 L1453.1,753.2 L1454.5,756.1 L1456.7,758.3 L1458.9,759.0 L1459.7,767.9 L1460.7,797.4 L1461.6,808.8 L1462.6,829.5 L1463.4,844.2 L1465.6,845.7 L1467.5,847.5 L1469.3,850.1 L1471.5,844.9 L1472.9,847.9 L1474.4,856.0 L1475.9,861.9 L1477.4,870.7 L1478.8,885.5 L1480.8,881.0 L1482.5,884.7 L1484.7,889.2 L1486.9,888.4 L1489.2,889.9 L1491.1,891.4 L1492.5,900.9 L1495.0,903.2 L1496.5,903.9 L1497.3,858.9 L1498.4,858.2 L1499.0,882.5 L1500.5,891.4 L1501.4,916.4 L1503.2,917.9 L1505.4,920.8 L1507.6,923.8 L1509.3,925.3 L1510.5,920.1 L1511.7,917.9 L1512.7,940.0 L1513.5,951.8 L1514.9,950.3 L1516.7,945.2 L1517.9,941.5 L1520.1,938.5 L1522.3,936.3 L1524.5,939.3 L1525.6,942.9 L1527.0,939.3 L1528.9,940.0 L1530.0,943.7 L1531.9,942.9 L1533.4,943.7 L1534.8,937.0 L1536.3,922.3 L1537.8,906.1 L1538.8,900.9 L1540.0,912.0 L1541.2,937.8 L1542.6,935.6 L1544.1,929.7 L1545.9,922.3 L1547.4,921.6 L1548.8,917.9 L1549.6,914.9 L1550.3,873.7 L1551.0,842.7 L1552.1,842.0 L1552.7,856.0 L1554.4,850.1 L1556.2,850.8 L1559.2,850.4 L1561.8,850.1 L1562.8,844.2 L1563.9,835.4 L1565.0,832.4 L1567.3,831.7 L1568.7,830.2 L1570.2,826.5 L1572.1,822.8 L1573.9,820.6 L1576.1,816.2 L1577.6,813.3 L1578.6,810.3 L1579.5,839.1 L1580.5,823.6 L1581.6,807.4 L1583.5,805.2 L1585.7,802.9 L1586.9,782.6 L1587.9,767.9 L1588.6,751.7 L1590.4,750.2 L1591.3,729.6 L1591.9,714.8 L1593.8,713.4 L1595.7,711.9 L1597.8,717.0 L1599.2,713.4 L1601.1,708.9 L1602.6,703.1 L1604.5,697.2 L1606.0,688.3 L1607.0,680.9 L1608.1,682.4 L1609.3,676.5 L1611.0,669.2 L1612.9,666.2 L1615.1,667.7 L1617.4,666.9 L1619.3,665.5 L1619.6,663.2 L1620.7,654.9 L1621.5,632.3 L1623.1,631.5 L1624.5,630.6 L1625.1,660.5 L1625.6,676.5 L1626.7,670.0 L1627.6,659.4 L1628.4,638.4 L1628.9,626.8 L1630.3,626.4 L1630.9,636.2 L1632.0,631.7 L1633.6,628.4 L1635.5,626.8 L1637.0,625.7 L1638.1,623.5 L1639.2,622.4 L1639.7,605.2 L1640.3,586.5 L1641.7,576.5 L1643.6,576.3 L1645.8,576.0 L1647.4,576.3 L1648.8,574.3 L1649.7,574.9 L1650.2,588.7 L1650.5,600.3 L1651.9,593.1 L1653.5,591.8 L1655.2,590.9 L1656.3,588.7 L1657.2,584.2 L1658.5,582.9 L1659.8,583.1 L1661.3,583.7 L1662.0,582.9 L1662.9,596.4 L1664.0,611.9 L1665.1,617.9 L1665.7,605.2 L1666.2,597.5 L1667.6,594.2 L1668.4,582.0 L1670.1,580.9 L1671.7,578.9 L1673.4,577.6 L1675.1,578.9 L1675.9,584.2 L1677.3,587.6 L1678.4,588.1 L1679.3,580.9 L1680.0,571.0 L1681.7,568.8 L1683.3,571.5 L1685.0,572.6 L1686.7,573.8 L1687.4,583.1 L1688.9,579.6 L1690.5,582.0 L1692.2,580.0 L1693.8,579.8 L1695.8,581.8 L1696.9,585.4 L1697.7,590.3 L1699.4,586.5 L1701.4,582.6 L1703.2,584.2 L1704.9,585.1 L1706.5,585.9 L1708.0,588.9 L1709.9,588.1 L1711.0,585.9 L1712.1,585.9 L1712.8,596.4 L1713.7,607.4 L1714.3,614.1 L1715.9,615.2 L1716.8,620.7 L1717.6,631.7 L1718.1,638.9 L1719.2,639.6 L1719.5,654.7 L1719.8,666.2 L1721.7,664.7 L1723.5,661.7 L1724.6,662.1 L1725.7,665.0 L1726.1,676.8 L1726.5,687.9 L1727.6,693.0 L1728.7,699.0 L1729.0,710.0 L1729.2,727.1 L1731.9,723.3 L1733.6,719.4 L1735.2,718.8 L1735.8,732.1 L1736.3,752.0 L1738.6,754.2 L1739.7,770.8 L1741.3,774.1 L1742.4,779.6 L1745.2,782.4 L1745.7,798.4 L1746.4,815.0 L1746.8,833.2 L1748.4,830.7 L1749.0,856.4 L1749.5,885.5 L1750.9,892.1 L1752.6,895.4 L1753.4,889.6 L1754.2,864.7 L1754.8,851.5 L1755.9,853.5 L1757.1,853.5 L1758.1,843.2 L1759.2,849.0 L1760.5,844.8 L1761.5,843.2 L1762.9,838.2 L1764.2,839.9 L1765.4,841.5 L1766.7,837.4 L1768.3,837.4 L1769.4,843.2 L1770.8,844.4 L1772.5,846.1 L1773.3,845.3 L1775.0,846.5 L1775.8,864.7 L1776.6,880.9 L1777.4,873.0 L1778.3,852.3 L1779.5,851.5 L1781.2,850.2 L1782.0,849.8" fill="none" stroke="#ed756b" stroke-width="3" stroke-linejoin="round"/></g>
</g>
<!-- flow line core -->
<path d="M112.6,189.0 L113.2,232.0 L113.8,300.0 L114.2,340.0 L114.7,420.0 L115.0,500.0 L115.3,526.5 L116.5,544.2 L118.9,558.9 L120.3,576.6 L121.4,610.0 L121.8,623.8 L122.4,624.5 L123.6,605.4 L124.8,605.8 L125.3,609.8 L128.7,612.0 L129.9,633.4 L131.7,626.7 L132.7,626.4 L134.2,634.1 L136.1,627.0 L137.1,626.4 L138.3,634.8 L139.1,628.2 L140.5,635.6 L142.7,629.7 L143.9,628.9 L145.7,633.4 L148.6,634.4 L149.8,628.2 L150.8,637.8 L152.3,633.4 L153.3,638.5 L154.8,621.6 L156.7,627.5 L158.2,630.4 L160.1,628.9 L160.7,631.9 L161.9,627.5 L163.7,627.5 L165.6,628.9 L169.3,629.7 L173.7,630.7 L176.6,632.6 L179.6,635.9 L182.5,635.6 L185.5,635.6 L188.4,637.5 L191.4,636.3 L193.6,634.1 L195.0,636.3 L196.5,639.3 L198.0,639.3 L198.7,628.9 L200.9,630.4 L202.4,629.7 L203.9,631.9 L206.1,632.6 L209.0,627.9 L210.5,632.6 L213.5,631.2 L216.4,631.6 L218.6,630.4 L220.1,632.6 L223.8,633.4 L226.0,631.9 L229.7,633.8 L232.6,631.9 L233.4,635.6 L234.1,631.9 L237.0,632.2 L238.5,633.4 L240.7,641.5 L241.8,642.6 L243.7,634.1 L245.9,633.4 L248.1,627.0 L250.3,630.4 L252.5,633.1 L254.7,630.4 L257.4,627.0 L259.9,631.9 L261.4,634.8 L262.8,630.4 L264.3,631.2 L265.8,629.4 L267.3,629.4 L268.7,626.0 L270.6,630.4 L272.4,628.5 L274.3,626.4 L276.8,630.4 L279.0,634.1 L281.3,634.4 L282.7,636.8 L285.4,621.6 L286.9,623.0 L288.6,622.6 L290.4,629.7 L292.3,629.7 L294.5,626.4 L296.7,626.3 L298.9,626.7 L301.1,625.0 L303.4,625.6 L306.3,624.5 L309.3,622.0 L310.7,622.3 L312.2,623.5 L314.4,622.0 L316.6,621.6 L319.6,622.0 L321.0,622.6 L324.0,619.7 L325.5,619.7 L326.2,628.9 L328.4,625.3 L330.6,618.6 L332.5,620.1 L333.6,618.3 L335.8,621.6 L338.0,620.1 L340.2,626.7 L342.4,629.7 L344.6,629.4 L348.3,635.6 L350.5,636.8 L352.7,637.8 L354.2,637.8 L356.4,636.8 L357.9,639.3 L359.4,641.5 L360.5,636.3 L362.0,643.7 L363.8,642.6 L366.0,640.4 L368.2,641.5 L370.4,645.2 L372.6,641.9 L374.8,642.6 L376.3,644.4 L378.2,643.2 L379.1,643.7 L379.7,541.5 L381.0,541.0 L382.5,543.8 L384.9,543.0 L387.2,541.0 L389.1,537.6 L390.3,543.0 L393.5,544.6 L395.8,547.7 L397.4,545.4 L399.7,546.6 L402.1,546.9 L403.6,545.4 L405.7,537.6 L408.3,541.0 L410.7,542.6 L412.3,546.9 L413.5,554.8 L415.7,553.2 L416.9,544.6 L418.5,542.6 L420.4,542.3 L421.6,545.1 L424.0,545.1 L427.1,542.3 L428.7,546.6 L431.3,543.8 L433.4,545.4 L434.9,544.3 L437.3,545.4 L439.6,543.0 L441.7,546.9 L443.6,547.3 L445.9,546.2 L448.2,547.7 L450.6,549.3 L452.9,548.8 L455.3,546.9 L456.9,552.4 L458.4,554.0 L459.5,548.5 L461.5,550.9 L464.7,549.8 L466.2,545.4 L468.6,542.3 L470.9,541.5 L473.3,538.3 L474.9,533.6 L476.4,533.2 L478.8,532.1 L481.1,533.2 L483.5,533.6 L485.8,529.0 L487.1,528.2 L488.2,529.4 L489.7,526.6 L491.3,529.7 L493.9,529.0 L496.4,522.7 L498.3,524.7 L500.7,525.8 L503.0,527.4 L504.9,525.8 L507.2,523.5 L508.0,562.6 L508.3,625.7 L509.6,627.2 L511.8,627.5 L514.0,626.9 L516.2,622.0 L518.4,620.1 L521.4,619.8 L524.3,619.1 L526.5,617.6 L528.7,619.8 L530.2,622.7 L532.1,619.1 L534.2,619.5 L536.5,618.0 L538.6,622.0 L540.1,623.5 L542.0,619.5 L543.3,614.2 L544.9,618.6 L547.2,619.8 L550.8,621.3 L555.3,623.0 L557.5,622.0 L558.9,622.7 L561.2,621.3 L563.4,622.0 L565.6,622.7 L568.5,620.1 L570.7,619.8 L572.9,620.1 L575.2,619.5 L577.4,618.6 L579.6,618.0 L581.8,619.8 L583.7,621.0 L584.7,618.3 L585.8,610.7 L587.2,613.2 L589.9,615.1 L592.1,615.4 L594.3,615.1 L596.5,614.6 L599.0,613.9 L601.7,616.1 L604.6,614.6 L606.1,616.5 L608.3,618.0 L610.5,617.6 L613.5,619.1 L616.4,617.6 L619.4,617.1 L621.6,619.1 L623.8,619.5 L626.0,619.1 L627.0,625.7 L628.2,623.5 L629.7,615.4 L631.9,616.1 L634.8,616.1 L637.8,615.4 L640.0,616.1 L642.2,618.0 L644.4,620.5 L647.4,621.0 L649.6,620.1 L651.8,619.8 L654.7,621.0 L656.9,618.3 L658.9,617.6 L660.6,621.3 L662.1,621.0 L664.3,617.6 L666.5,614.6 L668.7,615.1 L670.6,617.6 L671.7,624.2 L672.7,643.4 L674.6,641.2 L676.8,640.7 L679.5,640.1 L682.0,643.1 L683.9,640.7 L686.4,640.4 L689.4,639.7 L691.3,641.2 L693.0,639.7 L695.3,640.1 L697.5,641.9 L699.7,644.8 L701.9,645.6 L704.1,644.1 L706.3,644.1 L708.5,642.6 L710.7,642.6 L712.9,645.6 L714.0,649.3 L714.9,644.8 L715.7,645.1 L716.0,674.3 L718.1,673.1 L721.0,672.8 L723.3,672.1 L725.5,672.5 L727.7,671.1 L729.1,670.6 L730.6,672.5 L732.5,674.0 L734.3,670.2 L737.3,668.1 L739.5,668.4 L742.4,669.2 L744.6,668.9 L746.8,669.9 L749.0,668.4 L748.8,669.4 L751.8,671.9 L753.6,668.6 L755.9,671.3 L757.7,676.7 L759.2,677.5 L760.3,695.9 L762.1,696.3 L765.1,694.9 L768.7,692.9 L770.9,694.4 L773.2,692.9 L776.8,692.9 L779.1,694.9 L781.6,696.3 L783.5,694.4 L785.7,693.7 L788.6,694.4 L791.3,696.6 L793.3,694.9 L795.7,695.9 L798.2,693.7 L799.2,693.4 L800.4,673.8 L801.9,676.0 L803.1,695.9 L804.8,695.9 L806.6,693.7 L808.5,692.2 L811.0,695.2 L812.9,693.7 L815.2,693.4 L817.4,693.7 L818.4,691.5 L819.9,696.6 L821.8,696.3 L824.0,692.9 L826.2,690.4 L827.2,688.5 L829.2,690.7 L831.1,692.9 L833.1,691.0 L835.8,691.5 L838.4,690.4 L840.2,692.9 L842.4,697.4 L843.4,689.3 L844.6,670.1 L846.1,669.8 L847.3,692.2 L849.0,693.7 L850.8,695.9 L853.5,694.9 L856.4,693.7 L858.6,692.2 L860.8,696.6 L863.0,694.4 L866.0,692.2 L868.2,689.0 L870.0,691.5 L871.9,689.6 L874.1,689.0 L875.9,691.5 L877.8,690.0 L880.7,693.4 L882.6,691.5 L885.2,691.9 L887.4,690.7 L888.1,673.3 L889.1,700.3 L891.0,700.3 L894.0,698.8 L896.2,698.1 L898.4,697.4 L900.6,701.0 L902.8,698.8 L906.5,698.1 L910.2,701.0 L912.4,698.8 L914.6,700.3 L916.8,698.1 L918.6,697.4 L920.5,701.0 L922.7,698.8 L925.7,699.6 L929.4,700.3 L930.4,681.9 L931.6,679.7 L932.7,705.5 L934.5,706.2 L937.2,704.7 L939.7,708.4 L942.6,707.7 L944.8,707.7 L947.5,705.2 L950.0,709.2 L952.2,707.7 L954.4,707.7 L956.6,704.7 L958.1,706.2 L960.3,708.4 L962.5,705.8 L964.3,705.2 L966.2,705.8 L968.1,704.0 L970.2,706.9 L972.1,705.5 L973.6,707.2 L974.6,676.7 L976.1,673.8 L977.3,693.7 L979.5,695.2 L981.7,694.9 L984.6,694.4 L987.6,692.9 L989.8,695.2 L992.0,694.4 L994.2,695.4 L997.1,693.7 L999.7,697.4 L1001.6,696.3 L1004.5,693.7 L1007.0,691.5 L1009.7,692.9 L1011.9,691.9 L1014.1,691.5 L1016.3,690.4 L1017.3,665.7 L1018.5,689.3 L1018.9,690.2 L1020.6,689.5 L1023.6,688.4 L1026.5,686.5 L1027.7,685.5 L1029.5,689.5 L1031.2,690.9 L1032.4,694.9 L1034.2,690.9 L1036.5,687.6 L1038.6,690.9 L1040.5,691.7 L1043.5,690.9 L1045.7,691.4 L1047.2,689.5 L1049.4,693.9 L1050.8,690.9 L1052.3,691.7 L1053.3,698.3 L1055.7,698.3 L1057.5,693.9 L1058.7,691.4 L1060.1,690.9 L1060.7,666.6 L1061.6,667.4 L1062.6,691.4 L1064.8,690.2 L1066.6,687.6 L1068.5,690.9 L1070.7,690.5 L1073.7,690.9 L1076.3,688.4 L1078.1,691.7 L1080.3,692.4 L1082.5,692.0 L1084.7,693.2 L1086.6,690.2 L1088.4,693.9 L1090.6,694.9 L1093.1,695.4 L1095.8,693.2 L1097.3,692.4 L1099.0,696.8 L1100.5,693.9 L1102.0,702.7 L1103.9,705.7 L1104.9,690.2 L1105.8,678.4 L1107.6,679.6 L1109.0,682.1 L1112.0,681.4 L1114.9,681.1 L1117.2,678.4 L1119.4,681.1 L1122.3,681.4 L1125.3,681.1 L1128.2,684.3 L1130.4,685.5 L1131.4,690.9 L1133.4,692.0 L1135.3,693.2 L1136.8,697.6 L1138.8,700.2 L1141.2,699.0 L1142.9,699.8 L1145.2,699.8 L1146.2,686.5 L1147.4,682.5 L1149.1,683.6 L1150.3,679.2 L1153.3,679.9 L1155.5,679.2 L1157.4,678.4 L1159.2,681.1 L1160.6,675.2 L1162.8,678.4 L1165.0,678.1 L1165.8,674.7 L1168.0,678.1 L1170.9,677.7 L1173.2,678.4 L1175.4,676.9 L1176.5,675.2 L1178.6,679.2 L1181.0,676.9 L1182.7,670.8 L1184.5,671.8 L1185.7,678.4 L1187.9,679.6 L1189.4,679.9 L1190.1,651.9 L1191.3,648.2 L1193.8,647.8 L1195.7,646.0 L1197.5,648.2 L1199.7,649.7 L1201.9,648.7 L1204.1,648.2 L1205.6,646.3 L1207.8,648.2 L1210.0,648.9 L1212.2,648.9 L1213.4,653.4 L1214.4,655.6 L1215.4,651.2 L1216.9,653.7 L1218.1,654.8 L1219.6,653.1 L1222.5,652.6 L1225.5,650.4 L1227.7,651.6 L1229.6,650.7 L1232.1,651.6 L1233.6,656.3 L1235.0,647.2 L1237.3,650.4 L1239.5,649.7 L1241.7,651.9 L1243.1,652.6 L1245.4,655.6 L1247.9,658.1 L1250.5,657.8 L1252.7,657.0 L1253.8,654.8 L1255.7,651.9 L1257.6,655.6 L1259.1,647.8 L1260.8,649.7 L1262.3,649.2 L1263.8,642.3 L1265.3,640.8 L1267.5,642.8 L1269.7,643.3 L1271.4,643.1 L1273.4,635.7 L1275.3,633.9 L1276.7,642.3 L1278.2,643.1 L1279.3,636.4 L1280.0,637.2 L1282.1,637.6 L1283.8,636.3 L1285.2,635.0 L1286.5,639.0 L1288.2,639.8 L1290.4,639.6 L1292.6,641.6 L1294.5,639.0 L1296.5,640.5 L1298.1,641.3 L1300.3,640.2 L1302.5,641.3 L1304.4,639.6 L1306.4,641.3 L1308.1,642.4 L1310.3,642.4 L1313.0,642.7 L1315.2,641.3 L1317.4,641.8 L1318.6,643.5 L1319.7,647.1 L1320.8,640.2 L1322.4,638.5 L1324.1,634.1 L1325.7,635.7 L1327.4,636.8 L1329.6,636.5 L1331.8,636.8 L1334.2,636.1 L1336.2,636.3 L1338.4,637.2 L1339.8,633.5 L1341.2,630.5 L1343.4,630.2 L1345.6,627.7 L1347.3,629.1 L1349.3,629.9 L1350.6,631.6 L1352.6,630.2 L1354.5,628.6 L1356.1,629.7 L1358.1,630.8 L1360.0,630.2 L1361.4,627.7 L1362.7,634.6 L1363.8,630.5 L1364.9,620.3 L1366.6,621.0 L1368.3,621.4 L1369.9,620.8 L1370.7,610.9 L1371.8,607.6 L1373.2,606.5 L1374.9,607.0 L1377.1,608.7 L1379.3,607.0 L1381.3,604.8 L1383.2,606.5 L1384.8,609.2 L1386.2,612.0 L1387.0,618.6 L1388.1,622.5 L1389.5,625.2 L1390.6,630.2 L1392.3,633.5 L1394.2,634.1 L1395.9,637.9 L1397.5,642.4 L1399.2,645.1 L1400.9,648.7 L1402.5,647.9 L1404.2,647.3 L1405.8,646.2 L1406.7,649.5 L1407.5,645.1 L1408.6,644.2 L1409.1,649.5 L1409.7,658.4 L1410.5,663.9 L1411.3,668.1 L1412.2,661.7 L1413.0,647.3 L1413.8,640.7 L1414.7,640.2 L1415.8,645.1 L1416.9,650.6 L1418.0,655.6 L1418.9,658.9 L1419.6,657.3 L1421.1,657.8 L1421.4,679.5 L1422.1,732.5 L1424.3,734.0 L1426.2,739.6 L1428.7,739.2 L1431.2,737.7 L1433.6,736.9 L1434.6,741.4 L1436.1,754.9 L1438.6,756.1 L1441.3,758.3 L1443.5,763.5 L1444.9,767.9 L1446.9,771.6 L1448.6,778.2 L1450.8,785.6 L1451.9,767.9 L1453.1,753.2 L1454.5,756.1 L1456.7,758.3 L1458.9,759.0 L1459.7,767.9 L1460.7,797.4 L1461.6,808.8 L1462.6,829.5 L1463.4,844.2 L1465.6,845.7 L1467.5,847.5 L1469.3,850.1 L1471.5,844.9 L1472.9,847.9 L1474.4,856.0 L1475.9,861.9 L1477.4,870.7 L1478.8,885.5 L1480.8,881.0 L1482.5,884.7 L1484.7,889.2 L1486.9,888.4 L1489.2,889.9 L1491.1,891.4 L1492.5,900.9 L1495.0,903.2 L1496.5,903.9 L1497.3,858.9 L1498.4,858.2 L1499.0,882.5 L1500.5,891.4 L1501.4,916.4 L1503.2,917.9 L1505.4,920.8 L1507.6,923.8 L1509.3,925.3 L1510.5,920.1 L1511.7,917.9 L1512.7,940.0 L1513.5,951.8 L1514.9,950.3 L1516.7,945.2 L1517.9,941.5 L1520.1,938.5 L1522.3,936.3 L1524.5,939.3 L1525.6,942.9 L1527.0,939.3 L1528.9,940.0 L1530.0,943.7 L1531.9,942.9 L1533.4,943.7 L1534.8,937.0 L1536.3,922.3 L1537.8,906.1 L1538.8,900.9 L1540.0,912.0 L1541.2,937.8 L1542.6,935.6 L1544.1,929.7 L1545.9,922.3 L1547.4,921.6 L1548.8,917.9 L1549.6,914.9 L1550.3,873.7 L1551.0,842.7 L1552.1,842.0 L1552.7,856.0 L1554.4,850.1 L1556.2,850.8 L1559.2,850.4 L1561.8,850.1 L1562.8,844.2 L1563.9,835.4 L1565.0,832.4 L1567.3,831.7 L1568.7,830.2 L1570.2,826.5 L1572.1,822.8 L1573.9,820.6 L1576.1,816.2 L1577.6,813.3 L1578.6,810.3 L1579.5,839.1 L1580.5,823.6 L1581.6,807.4 L1583.5,805.2 L1585.7,802.9 L1586.9,782.6 L1587.9,767.9 L1588.6,751.7 L1590.4,750.2 L1591.3,729.6 L1591.9,714.8 L1593.8,713.4 L1595.7,711.9 L1597.8,717.0 L1599.2,713.4 L1601.1,708.9 L1602.6,703.1 L1604.5,697.2 L1606.0,688.3 L1607.0,680.9 L1608.1,682.4 L1609.3,676.5 L1611.0,669.2 L1612.9,666.2 L1615.1,667.7 L1617.4,666.9 L1619.3,665.5 L1619.6,663.2 L1620.7,654.9 L1621.5,632.3 L1623.1,631.5 L1624.5,630.6 L1625.1,660.5 L1625.6,676.5 L1626.7,670.0 L1627.6,659.4 L1628.4,638.4 L1628.9,626.8 L1630.3,626.4 L1630.9,636.2 L1632.0,631.7 L1633.6,628.4 L1635.5,626.8 L1637.0,625.7 L1638.1,623.5 L1639.2,622.4 L1639.7,605.2 L1640.3,586.5 L1641.7,576.5 L1643.6,576.3 L1645.8,576.0 L1647.4,576.3 L1648.8,574.3 L1649.7,574.9 L1650.2,588.7 L1650.5,600.3 L1651.9,593.1 L1653.5,591.8 L1655.2,590.9 L1656.3,588.7 L1657.2,584.2 L1658.5,582.9 L1659.8,583.1 L1661.3,583.7 L1662.0,582.9 L1662.9,596.4 L1664.0,611.9 L1665.1,617.9 L1665.7,605.2 L1666.2,597.5 L1667.6,594.2 L1668.4,582.0 L1670.1,580.9 L1671.7,578.9 L1673.4,577.6 L1675.1,578.9 L1675.9,584.2 L1677.3,587.6 L1678.4,588.1 L1679.3,580.9 L1680.0,571.0 L1681.7,568.8 L1683.3,571.5 L1685.0,572.6 L1686.7,573.8 L1687.4,583.1 L1688.9,579.6 L1690.5,582.0 L1692.2,580.0 L1693.8,579.8 L1695.8,581.8 L1696.9,585.4 L1697.7,590.3 L1699.4,586.5 L1701.4,582.6 L1703.2,584.2 L1704.9,585.1 L1706.5,585.9 L1708.0,588.9 L1709.9,588.1 L1711.0,585.9 L1712.1,585.9 L1712.8,596.4 L1713.7,607.4 L1714.3,614.1 L1715.9,615.2 L1716.8,620.7 L1717.6,631.7 L1718.1,638.9 L1719.2,639.6 L1719.5,654.7 L1719.8,666.2 L1721.7,664.7 L1723.5,661.7 L1724.6,662.1 L1725.7,665.0 L1726.1,676.8 L1726.5,687.9 L1727.6,693.0 L1728.7,699.0 L1729.0,710.0 L1729.2,727.1 L1731.9,723.3 L1733.6,719.4 L1735.2,718.8 L1735.8,732.1 L1736.3,752.0 L1738.6,754.2 L1739.7,770.8 L1741.3,774.1 L1742.4,779.6 L1745.2,782.4 L1745.7,798.4 L1746.4,815.0 L1746.8,833.2 L1748.4,830.7 L1749.0,856.4 L1749.5,885.5 L1750.9,892.1 L1752.6,895.4 L1753.4,889.6 L1754.2,864.7 L1754.8,851.5 L1755.9,853.5 L1757.1,853.5 L1758.1,843.2 L1759.2,849.0 L1760.5,844.8 L1761.5,843.2 L1762.9,838.2 L1764.2,839.9 L1765.4,841.5 L1766.7,837.4 L1768.3,837.4 L1769.4,843.2 L1770.8,844.4 L1772.5,846.1 L1773.3,845.3 L1775.0,846.5 L1775.8,864.7 L1776.6,880.9 L1777.4,873.0 L1778.3,852.3 L1779.5,851.5 L1781.2,850.2 L1782.0,849.8" fill="none" stroke="#161616" stroke-width="1.2" stroke-linejoin="round" stroke-linecap="butt"/>
<!-- y labels -->
<g font-size="24" fill="#1a1a1a">
<g text-anchor="end">
<text x="67.6" y="270.2" textLength="31" lengthAdjust="spacingAndGlyphs">3.2</text><text x="67.6" y="451.5" textLength="31" lengthAdjust="spacingAndGlyphs">2.4</text><text x="67.6" y="632.8" textLength="31" lengthAdjust="spacingAndGlyphs">1.6</text><text x="67.6" y="814.1" textLength="31" lengthAdjust="spacingAndGlyphs">0.8</text><text x="67.3" y="995.4">0</text>
</g>
<text x="1825.2" y="303" textLength="50" lengthAdjust="spacingAndGlyphs">80M</text><text x="1824.8" y="481.6" textLength="50" lengthAdjust="spacingAndGlyphs">40M</text><text x="1826.2" y="660">0</text><text x="1826.4" y="837.3" textLength="58.2" lengthAdjust="spacingAndGlyphs">-40M</text>
</g>
<!-- x labels -->
<g font-size="19.5" fill="#7d7d88"><text x="242.7" y="1026" text-anchor="middle" textLength="79.5" lengthAdjust="spacingAndGlyphs">2022 Sep</text><text x="415.6" y="1026" text-anchor="middle" textLength="75" lengthAdjust="spacingAndGlyphs">2023 Jan</text><text x="585.6" y="1026" text-anchor="middle" textLength="84.3" lengthAdjust="spacingAndGlyphs">2023 May</text><text x="760.0" y="1026" text-anchor="middle" textLength="79.5" lengthAdjust="spacingAndGlyphs">2023 Sep</text><text x="933.0" y="1026" text-anchor="middle" textLength="75" lengthAdjust="spacingAndGlyphs">2024 Jan</text><text x="1104.5" y="1026" text-anchor="middle" textLength="84.3" lengthAdjust="spacingAndGlyphs">2024 May</text><text x="1278.0" y="1026" text-anchor="middle" textLength="79.5" lengthAdjust="spacingAndGlyphs">2024 Sep</text><text x="1451.6" y="1026" text-anchor="middle" textLength="75" lengthAdjust="spacingAndGlyphs">2025 Jan</text><text x="1621.7" y="1026" text-anchor="middle" textLength="84.3" lengthAdjust="spacingAndGlyphs">2025 May</text><text x="1796.5" y="1026" text-anchor="middle" textLength="79.5" lengthAdjust="spacingAndGlyphs">2025 Sep</text></g>
<text x="1882.5" y="1058.5" text-anchor="end" font-size="16" fill="#7d7d88" textLength="241.5" lengthAdjust="spacingAndGlyphs">© CryptoQuant. All rights reserved</text>
</svg>
</body></html>
